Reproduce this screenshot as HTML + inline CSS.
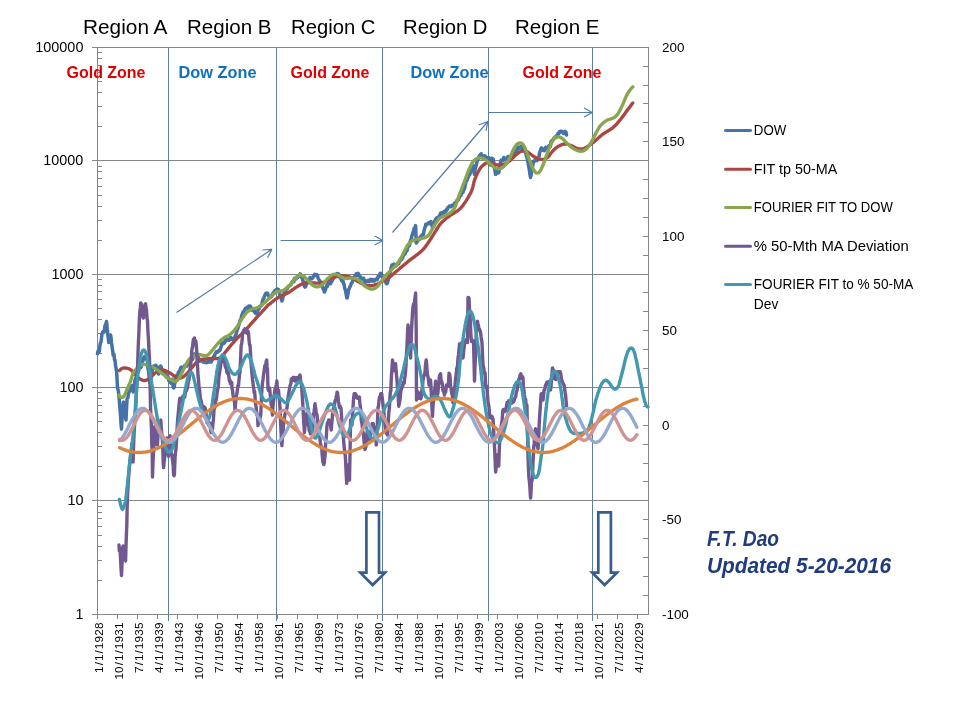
<!DOCTYPE html>
<html lang="en"><head><meta charset="utf-8"><title>Dow / Gold Zones</title>
<style>
html,body{margin:0;padding:0;background:#fff}
body{width:960px;height:720px;overflow:hidden;position:relative;font-family:"Liberation Sans",sans-serif}
svg{position:absolute;left:0;top:0;display:block}
text{font-family:"Liberation Sans",sans-serif}
.ax{font-size:14.4px;fill:#000}
.ar{font-size:13.4px;fill:#000}
.ad{font-size:11.7px;fill:#000}
.lg{font-size:14.5px;fill:#000}
.rg{font-size:19.5px;fill:#000}
.gz{font-size:17.3px;font-weight:bold;fill:#e00000}
.dz{font-size:17.3px;font-weight:bold;fill:#0f70c0}
.sig{font-size:21.5px;font-weight:bold;font-style:italic;fill:#1f3d7c}
.grid line{stroke:#868686;stroke-width:1}
.vz line{stroke:#5f7d9f;stroke-width:1}
.ser path{fill:none;stroke-linejoin:round;stroke-linecap:round}
</style></head><body>
<svg width="960" height="720" viewBox="0 0 960 720">
<rect width="960" height="720" fill="#fff"/>
<g class="grid" shape-rendering="crispEdges">
<line x1="91.5" y1="47.5" x2="648.5" y2="47.5"/>
<line x1="91.5" y1="160.5" x2="648.5" y2="160.5"/>
<line x1="91.5" y1="274.5" x2="648.5" y2="274.5"/>
<line x1="91.5" y1="387.5" x2="648.5" y2="387.5"/>
<line x1="91.5" y1="500.5" x2="648.5" y2="500.5"/>
<line x1="91.5" y1="614.5" x2="648.5" y2="614.5"/>
<line x1="97.5" y1="47.5" x2="97.5" y2="614.5"/>
<line x1="648.5" y1="47.5" x2="648.5" y2="614.5"/>
<line x1="97.5" y1="580.5" x2="101.5" y2="580.5"/>
<line x1="97.5" y1="560.5" x2="101.5" y2="560.5"/>
<line x1="97.5" y1="546.5" x2="101.5" y2="546.5"/>
<line x1="97.5" y1="535.5" x2="101.5" y2="535.5"/>
<line x1="97.5" y1="526.5" x2="101.5" y2="526.5"/>
<line x1="97.5" y1="518.5" x2="101.5" y2="518.5"/>
<line x1="97.5" y1="512.5" x2="101.5" y2="512.5"/>
<line x1="97.5" y1="506.5" x2="101.5" y2="506.5"/>
<line x1="97.5" y1="466.5" x2="101.5" y2="466.5"/>
<line x1="97.5" y1="446.5" x2="101.5" y2="446.5"/>
<line x1="97.5" y1="432.5" x2="101.5" y2="432.5"/>
<line x1="97.5" y1="421.5" x2="101.5" y2="421.5"/>
<line x1="97.5" y1="412.5" x2="101.5" y2="412.5"/>
<line x1="97.5" y1="405.5" x2="101.5" y2="405.5"/>
<line x1="97.5" y1="398.5" x2="101.5" y2="398.5"/>
<line x1="97.5" y1="392.5" x2="101.5" y2="392.5"/>
<line x1="97.5" y1="353.5" x2="101.5" y2="353.5"/>
<line x1="97.5" y1="333.5" x2="101.5" y2="333.5"/>
<line x1="97.5" y1="319.5" x2="101.5" y2="319.5"/>
<line x1="97.5" y1="308.5" x2="101.5" y2="308.5"/>
<line x1="97.5" y1="299.5" x2="101.5" y2="299.5"/>
<line x1="97.5" y1="291.5" x2="101.5" y2="291.5"/>
<line x1="97.5" y1="285.5" x2="101.5" y2="285.5"/>
<line x1="97.5" y1="279.5" x2="101.5" y2="279.5"/>
<line x1="97.5" y1="240.5" x2="101.5" y2="240.5"/>
<line x1="97.5" y1="220.5" x2="101.5" y2="220.5"/>
<line x1="97.5" y1="206.5" x2="101.5" y2="206.5"/>
<line x1="97.5" y1="195.5" x2="101.5" y2="195.5"/>
<line x1="97.5" y1="186.5" x2="101.5" y2="186.5"/>
<line x1="97.5" y1="178.5" x2="101.5" y2="178.5"/>
<line x1="97.5" y1="171.5" x2="101.5" y2="171.5"/>
<line x1="97.5" y1="166.5" x2="101.5" y2="166.5"/>
<line x1="97.5" y1="126.5" x2="101.5" y2="126.5"/>
<line x1="97.5" y1="106.5" x2="101.5" y2="106.5"/>
<line x1="97.5" y1="92.5" x2="101.5" y2="92.5"/>
<line x1="97.5" y1="81.5" x2="101.5" y2="81.5"/>
<line x1="97.5" y1="72.5" x2="101.5" y2="72.5"/>
<line x1="97.5" y1="65.5" x2="101.5" y2="65.5"/>
<line x1="97.5" y1="58.5" x2="101.5" y2="58.5"/>
<line x1="97.5" y1="52.5" x2="101.5" y2="52.5"/>
<line x1="643.0" y1="614.5" x2="648.5" y2="614.5"/>
<line x1="643.0" y1="595.5" x2="648.5" y2="595.5"/>
<line x1="643.0" y1="576.5" x2="648.5" y2="576.5"/>
<line x1="643.0" y1="557.5" x2="648.5" y2="557.5"/>
<line x1="643.0" y1="538.5" x2="648.5" y2="538.5"/>
<line x1="643.0" y1="519.5" x2="648.5" y2="519.5"/>
<line x1="643.0" y1="500.5" x2="648.5" y2="500.5"/>
<line x1="643.0" y1="481.5" x2="648.5" y2="481.5"/>
<line x1="643.0" y1="463.5" x2="648.5" y2="463.5"/>
<line x1="643.0" y1="444.5" x2="648.5" y2="444.5"/>
<line x1="643.0" y1="425.5" x2="648.5" y2="425.5"/>
<line x1="643.0" y1="406.5" x2="648.5" y2="406.5"/>
<line x1="643.0" y1="387.5" x2="648.5" y2="387.5"/>
<line x1="643.0" y1="368.5" x2="648.5" y2="368.5"/>
<line x1="643.0" y1="349.5" x2="648.5" y2="349.5"/>
<line x1="643.0" y1="330.5" x2="648.5" y2="330.5"/>
<line x1="643.0" y1="311.5" x2="648.5" y2="311.5"/>
<line x1="643.0" y1="292.5" x2="648.5" y2="292.5"/>
<line x1="643.0" y1="274.5" x2="648.5" y2="274.5"/>
<line x1="643.0" y1="255.5" x2="648.5" y2="255.5"/>
<line x1="643.0" y1="236.5" x2="648.5" y2="236.5"/>
<line x1="643.0" y1="217.5" x2="648.5" y2="217.5"/>
<line x1="643.0" y1="198.5" x2="648.5" y2="198.5"/>
<line x1="643.0" y1="179.5" x2="648.5" y2="179.5"/>
<line x1="643.0" y1="160.5" x2="648.5" y2="160.5"/>
<line x1="643.0" y1="141.5" x2="648.5" y2="141.5"/>
<line x1="643.0" y1="122.5" x2="648.5" y2="122.5"/>
<line x1="643.0" y1="103.5" x2="648.5" y2="103.5"/>
<line x1="643.0" y1="85.5" x2="648.5" y2="85.5"/>
<line x1="643.0" y1="66.5" x2="648.5" y2="66.5"/>
<line x1="643.0" y1="47.5" x2="648.5" y2="47.5"/>
<line x1="97.5" y1="614.5" x2="97.5" y2="618.5"/>
<line x1="117.5" y1="614.5" x2="117.5" y2="618.5"/>
<line x1="137.5" y1="614.5" x2="137.5" y2="618.5"/>
<line x1="157.5" y1="614.5" x2="157.5" y2="618.5"/>
<line x1="177.5" y1="614.5" x2="177.5" y2="618.5"/>
<line x1="197.5" y1="614.5" x2="197.5" y2="618.5"/>
<line x1="217.5" y1="614.5" x2="217.5" y2="618.5"/>
<line x1="237.5" y1="614.5" x2="237.5" y2="618.5"/>
<line x1="257.5" y1="614.5" x2="257.5" y2="618.5"/>
<line x1="277.5" y1="614.5" x2="277.5" y2="618.5"/>
<line x1="297.5" y1="614.5" x2="297.5" y2="618.5"/>
<line x1="317.5" y1="614.5" x2="317.5" y2="618.5"/>
<line x1="337.5" y1="614.5" x2="337.5" y2="618.5"/>
<line x1="357.5" y1="614.5" x2="357.5" y2="618.5"/>
<line x1="377.5" y1="614.5" x2="377.5" y2="618.5"/>
<line x1="397.5" y1="614.5" x2="397.5" y2="618.5"/>
<line x1="417.5" y1="614.5" x2="417.5" y2="618.5"/>
<line x1="437.5" y1="614.5" x2="437.5" y2="618.5"/>
<line x1="457.5" y1="614.5" x2="457.5" y2="618.5"/>
<line x1="477.5" y1="614.5" x2="477.5" y2="618.5"/>
<line x1="497.5" y1="614.5" x2="497.5" y2="618.5"/>
<line x1="517.5" y1="614.5" x2="517.5" y2="618.5"/>
<line x1="537.5" y1="614.5" x2="537.5" y2="618.5"/>
<line x1="557.5" y1="614.5" x2="557.5" y2="618.5"/>
<line x1="577.5" y1="614.5" x2="577.5" y2="618.5"/>
<line x1="597.5" y1="614.5" x2="597.5" y2="618.5"/>
<line x1="617.5" y1="614.5" x2="617.5" y2="618.5"/>
<line x1="637.5" y1="614.5" x2="637.5" y2="618.5"/>
</g>
<g class="vz" shape-rendering="crispEdges">
<line x1="168.5" y1="47.5" x2="168.5" y2="621.0"/>
<line x1="276.5" y1="47.5" x2="276.5" y2="621.0"/>
<line x1="382.5" y1="47.5" x2="382.5" y2="621.0"/>
<line x1="488.5" y1="47.5" x2="488.5" y2="621.0"/>
<line x1="592.5" y1="47.5" x2="592.5" y2="621.0"/>
</g>
<g class="ser">
<path d="M97.5 353.8 L98.0 351.2 L98.5 351.3 L98.9 352.4 L99.4 351.0 L99.8 346.6 L100.2 344.1 L100.6 342.6 L101.0 342.0 L101.5 337.8 L102.0 333.6 L102.5 332.5 L103.0 331.6 L103.5 332.4 L103.9 332.3 L104.4 330.5 L105.0 325.5 L105.5 325.0 L106.0 323.6 L106.5 321.5 L106.9 324.8 L107.3 330.0 L107.8 334.5 L108.3 338.3 L108.8 342.5 L109.1 339.9 L109.5 338.0 L110.0 337.2 L110.6 335.0 L111.0 337.0 L111.5 343.0 L111.9 345.0 L112.3 348.9 L112.7 350.8 L113.1 355.0 L113.6 354.3 L114.0 354.4 L114.5 359.9 L115.0 360.0 L115.5 365.7 L116.0 368.0 L116.5 371.2 L116.9 376.0 L117.5 388.0 L118.0 389.6 L118.5 392.0 L119.0 397.4 L119.4 401.0 L120.0 409.1 L120.5 415.0 L121.0 423.9 L121.5 429.0 L122.0 420.0 L122.5 410.0 L123.0 407.2 L123.5 402.0 L124.0 405.9 L124.5 408.0 L125.0 412.9 L125.5 416.9 L126.0 420.0 L126.5 408.8 L127.0 400.0 L127.4 398.0 L127.9 397.8 L128.3 394.4 L128.8 392.5 L129.2 391.9 L129.6 391.0 L130.0 390.0 L130.5 390.1 L131.0 388.9 L131.5 387.0 L132.0 385.7 L132.5 386.0 L132.8 389.4 L133.2 392.0 L133.6 389.2 L134.0 386.0 L134.5 383.4 L135.0 380.0 L135.5 378.4 L136.0 378.4 L136.5 375.0 L137.0 372.1 L137.5 373.4 L138.0 372.0 L138.4 371.2 L138.8 370.2 L139.2 367.3 L139.6 367.5 L140.0 368.0 L140.4 367.3 L140.8 367.4 L141.2 366.6 L141.6 364.2 L142.0 363.0 L142.4 361.4 L142.8 361.1 L143.2 360.0 L143.6 358.0 L144.0 358.0 L144.4 356.9 L144.8 358.3 L145.2 358.7 L145.6 358.7 L146.0 357.0 L146.5 357.3 L147.0 359.4 L147.5 362.0 L148.0 368.5 L148.5 371.0 L149.0 375.0 L149.5 379.7 L150.0 383.1 L150.5 383.0 L151.0 378.4 L151.5 376.3 L152.0 372.0 L152.5 369.1 L153.0 367.1 L153.5 366.0 L154.0 367.7 L154.5 367.7 L155.0 367.0 L155.4 367.4 L155.8 365.3 L156.2 366.0 L156.7 366.5 L157.1 367.3 L157.5 370.0 L158.0 372.6 L158.5 374.0 L159.0 372.7 L159.5 368.0 L160.1 366.9 L160.6 366.0 L161.1 366.6 L161.5 369.1 L162.0 370.0 L162.4 371.3 L162.8 371.5 L163.2 371.0 L163.6 371.3 L164.0 372.0 L164.4 373.6 L164.8 373.2 L165.2 373.1 L165.6 371.3 L166.0 374.0 L166.4 377.0 L166.8 377.4 L167.2 377.3 L167.6 376.0 L168.0 377.0 L168.4 378.1 L168.8 380.7 L169.2 380.7 L169.6 380.7 L170.0 380.0 L170.5 382.5 L170.9 383.1 L171.4 380.7 L171.9 381.3 L172.3 379.3 L172.8 384.8 L173.3 386.8 L173.8 388.0 L174.2 387.2 L174.7 383.3 L175.1 382.6 L175.6 379.6 L176.0 380.0 L176.4 377.1 L176.8 375.3 L177.2 375.5 L177.6 376.0 L178.0 374.0 L178.4 372.1 L178.8 372.3 L179.2 372.6 L179.6 371.2 L180.0 370.0 L180.4 368.9 L180.9 367.4 L181.3 367.3 L181.7 367.3 L182.1 367.3 L182.6 368.5 L183.0 368.0 L183.4 367.9 L183.9 367.0 L184.3 366.9 L184.7 365.7 L185.1 365.3 L185.6 365.3 L186.0 366.0 L186.4 365.8 L186.8 366.1 L187.2 365.4 L187.6 363.8 L188.0 363.0 L188.4 363.1 L188.8 362.5 L189.2 361.5 L189.6 360.6 L190.0 361.0 L190.4 360.4 L190.9 359.3 L191.3 359.8 L191.7 359.3 L192.1 359.1 L192.6 359.5 L193.0 358.0 L193.4 355.5 L193.9 355.4 L194.3 354.0 L194.7 354.4 L195.1 353.9 L195.6 354.1 L196.0 354.0 L196.4 353.3 L196.8 354.7 L197.2 355.1 L197.6 355.4 L198.0 356.0 L198.4 357.6 L198.8 359.3 L199.2 361.2 L199.6 360.6 L200.0 361.0 L200.4 360.3 L200.9 360.3 L201.3 360.3 L201.7 360.3 L202.1 360.3 L202.6 360.8 L203.0 362.0 L203.4 361.3 L203.8 361.3 L204.2 361.3 L204.6 361.5 L205.0 362.5 L205.4 362.4 L205.9 362.5 L206.3 362.6 L206.7 362.7 L207.1 362.5 L207.6 362.2 L208.0 361.0 L208.5 360.3 L208.9 361.7 L209.4 362.1 L209.9 362.1 L210.3 361.8 L210.8 361.8 L211.2 362.0 L211.7 360.6 L212.1 360.0 L212.6 359.5 L213.0 358.0 L213.4 357.3 L213.8 356.3 L214.2 355.4 L214.6 356.1 L215.0 354.0 L215.5 353.4 L215.9 352.6 L216.4 351.7 L216.9 351.5 L217.3 352.2 L217.8 351.9 L218.3 351.5 L218.8 350.6 L219.2 350.1 L219.7 350.6 L220.1 349.9 L220.6 348.5 L221.0 347.0 L221.4 345.4 L221.8 343.6 L222.2 344.0 L222.6 343.8 L223.0 343.0 L223.4 343.7 L223.8 342.6 L224.2 342.8 L224.6 342.9 L225.0 341.0 L225.4 339.5 L225.8 339.3 L226.2 339.3 L226.7 340.4 L227.1 339.3 L227.5 340.0 L227.9 340.1 L228.3 340.1 L228.8 340.1 L229.2 340.2 L229.6 339.0 L230.0 338.5 L230.5 337.3 L230.9 337.6 L231.4 339.2 L231.9 339.2 L232.3 339.2 L232.8 339.2 L233.3 339.0 L233.8 338.0 L234.2 338.6 L234.7 337.9 L235.1 336.1 L235.6 335.7 L236.0 335.0 L236.4 332.5 L236.8 331.1 L237.2 329.9 L237.6 328.9 L238.0 328.0 L238.5 326.2 L238.9 324.8 L239.4 322.8 L239.9 320.5 L240.3 320.3 L240.8 319.1 L241.2 318.0 L241.7 315.6 L242.1 314.4 L242.6 314.2 L243.0 312.0 L243.4 312.2 L243.9 311.0 L244.3 310.5 L244.7 309.6 L245.1 308.9 L245.6 309.2 L246.0 308.0 L246.5 308.7 L246.9 308.3 L247.4 307.3 L247.8 307.7 L248.3 306.5 L248.8 306.0 L249.2 306.7 L249.7 307.7 L250.1 306.0 L250.6 306.4 L251.0 308.0 L251.4 309.7 L251.8 310.1 L252.2 310.1 L252.6 310.4 L253.0 310.0 L253.4 310.3 L253.9 310.6 L254.3 310.9 L254.7 312.5 L255.2 312.8 L255.6 312.0 L256.0 313.4 L256.5 312.9 L256.9 313.0 L257.3 312.0 L257.7 310.8 L258.2 309.0 L258.6 308.3 L259.0 309.0 L259.4 307.5 L259.9 306.3 L260.3 306.4 L260.8 306.0 L261.2 305.7 L261.6 305.5 L262.1 302.8 L262.5 301.0 L262.9 299.7 L263.3 298.8 L263.7 298.6 L264.1 297.6 L264.5 296.0 L264.9 295.1 L265.4 294.0 L265.8 293.3 L266.2 293.0 L266.7 293.4 L267.1 293.4 L267.6 293.3 L268.0 295.0 L268.4 295.8 L268.8 296.4 L269.2 296.9 L269.6 297.3 L270.0 297.0 L270.4 297.5 L270.8 296.5 L271.2 296.2 L271.6 295.4 L272.0 296.0 L272.4 294.6 L272.8 293.7 L273.2 293.2 L273.6 293.6 L274.0 292.0 L274.4 291.0 L274.9 291.6 L275.4 290.4 L275.8 290.7 L276.2 290.0 L276.7 290.3 L277.1 289.0 L277.6 290.0 L278.1 289.9 L278.5 289.5 L278.9 291.3 L279.3 291.9 L279.7 295.0 L280.1 295.4 L280.5 295.0 L281.0 296.6 L281.4 299.5 L281.9 301.0 L282.3 299.9 L282.7 298.8 L283.1 296.4 L283.5 295.0 L283.9 293.9 L284.3 292.1 L284.8 292.2 L285.2 292.1 L285.6 291.5 L286.0 290.0 L286.4 288.3 L286.9 288.8 L287.3 288.7 L287.7 287.3 L288.1 287.3 L288.6 286.0 L289.0 286.0 L289.4 285.7 L289.9 285.6 L290.3 285.3 L290.8 285.0 L291.2 283.6 L291.7 282.8 L292.1 281.9 L292.6 281.2 L293.0 281.0 L293.4 280.9 L293.9 281.7 L294.3 278.7 L294.7 278.3 L295.1 278.3 L295.6 278.8 L296.0 279.0 L296.4 277.3 L296.8 277.5 L297.2 276.8 L297.7 277.5 L298.1 276.3 L298.5 276.0 L298.9 276.0 L299.3 275.9 L299.8 275.5 L300.2 273.9 L300.6 274.4 L301.1 276.4 L301.6 277.5 L302.0 277.7 L302.5 279.0 L303.0 281.1 L303.5 282.5 L304.0 284.0 L304.4 286.4 L304.8 286.5 L305.2 287.1 L305.6 286.5 L306.1 285.2 L306.6 283.8 L307.0 282.3 L307.5 281.0 L307.9 281.7 L308.3 280.7 L308.8 279.7 L309.2 280.8 L309.6 279.9 L310.0 277.5 L310.4 278.3 L310.8 277.9 L311.2 278.7 L311.7 278.7 L312.1 278.7 L312.5 278.0 L312.9 277.7 L313.4 276.3 L313.8 275.9 L314.3 275.1 L314.7 274.3 L315.2 274.6 L315.6 275.0 L316.1 275.5 L316.6 275.2 L317.0 274.7 L317.5 275.4 L318.0 278.0 L318.4 278.9 L318.8 279.5 L319.2 280.2 L319.6 280.6 L320.0 281.0 L320.4 281.8 L320.8 284.0 L321.2 285.0 L321.6 285.5 L322.0 285.0 L322.5 287.0 L323.0 288.7 L323.4 289.4 L323.9 290.2 L324.4 292.0 L324.8 291.4 L325.2 290.4 L325.7 289.1 L326.1 287.2 L326.5 286.0 L326.9 285.2 L327.3 286.4 L327.8 284.7 L328.2 283.6 L328.6 284.0 L329.0 283.0 L329.4 283.7 L329.8 283.7 L330.2 283.7 L330.7 283.4 L331.1 282.0 L331.5 281.0 L331.9 281.4 L332.3 280.4 L332.8 279.4 L333.2 278.7 L333.6 277.6 L334.0 277.0 L334.4 276.5 L334.9 276.0 L335.3 276.7 L335.8 276.1 L336.2 274.7 L336.6 274.2 L337.1 273.5 L337.5 273.8 L337.9 273.9 L338.3 273.7 L338.7 274.1 L339.1 276.3 L339.5 277.0 L339.9 277.5 L340.3 277.8 L340.8 278.4 L341.2 279.6 L341.6 280.7 L342.0 280.0 L342.4 281.4 L342.8 281.6 L343.2 281.6 L343.6 283.9 L344.0 284.0 L344.5 287.2 L345.0 289.5 L345.5 290.0 L345.9 292.7 L346.4 295.7 L346.8 297.8 L347.2 298.0 L347.7 295.4 L348.1 292.9 L348.6 289.6 L349.0 289.0 L349.4 288.2 L349.8 287.2 L350.2 286.4 L350.7 285.1 L351.1 283.8 L351.5 283.3 L351.9 283.0 L352.3 281.7 L352.7 280.9 L353.2 278.8 L353.6 278.5 L354.0 277.0 L354.4 276.9 L354.9 275.9 L355.4 275.2 L355.8 275.1 L356.2 273.8 L356.7 275.5 L357.2 275.0 L357.6 274.4 L358.1 273.3 L358.5 274.2 L359.0 275.0 L359.4 276.3 L359.9 276.2 L360.3 276.8 L360.7 278.4 L361.1 279.0 L361.6 279.0 L362.0 279.0 L362.4 278.3 L362.8 278.3 L363.2 278.3 L363.7 278.3 L364.1 280.0 L364.5 281.5 L364.9 280.6 L365.4 281.0 L365.8 281.1 L366.2 281.0 L366.7 281.7 L367.2 281.3 L367.6 280.8 L368.1 280.3 L368.5 280.3 L369.0 281.0 L369.4 281.6 L369.8 280.4 L370.2 279.9 L370.7 279.3 L371.1 279.8 L371.5 280.0 L371.9 281.0 L372.4 281.1 L372.9 279.6 L373.3 280.2 L373.8 280.6 L374.2 281.1 L374.6 280.0 L375.1 280.1 L375.6 279.6 L376.0 279.0 L376.4 279.6 L376.8 279.7 L377.2 279.6 L377.7 278.3 L378.1 276.3 L378.5 276.0 L379.0 276.7 L379.4 276.3 L379.9 273.9 L380.3 273.3 L380.8 273.3 L381.2 274.0 L381.7 275.6 L382.1 276.5 L382.6 277.2 L383.1 276.8 L383.5 277.0 L383.9 277.7 L384.3 278.0 L384.7 279.1 L385.1 279.7 L385.5 281.0 L385.9 282.5 L386.3 283.5 L386.7 283.7 L387.1 283.7 L387.5 283.0 L388.0 280.7 L388.5 279.1 L389.0 276.0 L389.4 275.5 L389.8 273.5 L390.2 272.2 L390.7 270.3 L391.1 267.5 L391.5 267.7 L391.9 265.0 L392.3 265.7 L392.7 265.1 L393.2 265.3 L393.6 264.5 L394.0 264.0 L394.4 264.7 L394.8 266.3 L395.2 265.4 L395.6 265.3 L396.0 266.0 L396.4 264.9 L396.8 264.9 L397.2 263.7 L397.7 263.6 L398.1 263.5 L398.5 264.0 L398.9 263.5 L399.3 261.6 L399.8 261.4 L400.2 259.6 L400.6 259.5 L401.0 260.0 L401.4 259.7 L401.9 258.3 L402.3 258.5 L402.7 257.8 L403.1 255.8 L403.6 254.6 L404.0 255.0 L404.4 254.4 L404.8 254.2 L405.2 253.6 L405.7 251.8 L406.1 251.1 L406.5 251.1 L406.9 251.0 L407.3 249.7 L407.7 246.7 L408.2 246.7 L408.6 246.2 L409.0 246.0 L409.4 245.6 L409.8 243.6 L410.2 241.4 L410.6 240.1 L411.0 240.0 L411.5 237.3 L412.0 235.9 L412.5 234.0 L413.0 232.3 L413.5 231.5 L414.0 229.0 L414.4 227.7 L414.8 227.6 L415.2 227.2 L415.6 225.6 L416.2 243.0 L416.7 242.8 L417.1 241.4 L417.5 241.0 L417.9 239.6 L418.3 240.3 L418.8 238.7 L419.2 239.4 L419.6 237.8 L420.0 238.5 L420.4 238.0 L420.8 236.4 L421.2 236.0 L421.6 236.1 L422.0 235.0 L422.4 234.6 L422.9 234.9 L423.3 234.7 L423.8 232.0 L424.2 230.0 L424.6 228.7 L425.0 227.3 L425.4 226.6 L425.8 224.3 L426.2 225.0 L426.7 224.7 L427.1 224.0 L427.6 224.0 L428.1 223.9 L428.5 223.0 L429.0 222.5 L429.4 223.5 L429.9 223.7 L430.3 222.4 L430.8 221.5 L431.2 222.0 L431.7 223.8 L432.1 225.7 L432.5 228.0 L433.0 226.5 L433.5 226.2 L434.0 224.0 L434.4 222.1 L434.8 220.9 L435.2 220.0 L435.6 219.2 L436.0 219.0 L436.4 218.2 L436.8 218.8 L437.2 218.9 L437.6 217.5 L438.0 217.0 L438.4 217.7 L438.9 217.7 L439.3 217.7 L439.7 215.2 L440.2 214.1 L440.6 213.0 L441.1 212.8 L441.6 214.6 L442.0 214.7 L442.5 214.7 L443.0 214.0 L443.4 212.4 L443.8 211.7 L444.2 211.3 L444.6 212.9 L445.0 212.0 L445.4 210.9 L445.8 211.4 L446.2 210.9 L446.7 209.2 L447.1 209.8 L447.5 209.0 L448.0 207.2 L448.4 207.0 L448.9 206.9 L449.4 206.0 L449.8 206.7 L450.3 206.7 L450.7 206.7 L451.1 206.7 L451.6 205.5 L452.0 206.0 L452.4 205.7 L452.8 205.2 L453.2 205.1 L453.6 205.4 L454.0 204.0 L454.4 204.7 L454.8 203.0 L455.2 203.3 L455.6 203.4 L456.0 203.0 L456.4 202.1 L456.8 200.6 L457.2 200.2 L457.6 200.8 L458.0 200.0 L458.4 199.8 L458.8 198.5 L459.2 198.0 L459.6 196.4 L460.0 196.0 L460.4 195.6 L460.8 195.6 L461.2 194.8 L461.6 193.5 L462.0 193.0 L462.5 192.4 L463.0 192.3 L463.4 190.4 L463.9 189.6 L464.4 188.8 L464.8 187.6 L465.2 184.7 L465.6 183.6 L466.1 181.2 L466.5 180.8 L466.9 180.0 L467.3 179.9 L467.7 177.0 L468.1 177.0 L468.5 177.0 L468.9 175.1 L469.3 175.1 L469.8 174.4 L470.2 173.4 L470.6 172.0 L471.1 169.7 L471.6 167.9 L472.0 169.2 L472.5 168.0 L473.0 167.4 L473.5 166.0 L473.9 170.2 L474.4 174.4 L474.9 170.4 L475.5 168.0 L475.9 166.1 L476.3 165.2 L476.7 162.5 L477.1 161.7 L477.5 160.0 L477.9 159.7 L478.3 158.7 L478.7 157.1 L479.1 157.3 L479.5 156.0 L479.9 155.6 L480.4 154.5 L480.8 154.4 L481.2 153.8 L481.7 155.1 L482.1 156.6 L482.6 157.1 L483.0 157.0 L483.4 156.9 L483.8 157.3 L484.2 157.4 L484.6 155.9 L485.0 156.0 L485.4 156.6 L485.8 157.0 L486.2 157.7 L486.6 157.6 L487.0 158.0 L487.4 158.7 L487.9 158.6 L488.3 157.5 L488.8 157.5 L489.2 160.9 L489.6 162.4 L490.0 165.0 L490.5 163.7 L491.0 161.7 L491.5 160.0 L491.9 158.3 L492.3 158.5 L492.7 159.5 L493.1 158.8 L493.6 161.5 L494.0 163.8 L494.5 168.0 L495.1 171.6 L495.6 174.4 L496.1 173.9 L496.5 173.0 L497.0 172.0 L497.4 171.3 L497.9 171.7 L498.3 172.9 L498.8 172.5 L499.2 169.8 L499.6 167.6 L500.0 165.0 L500.4 162.8 L500.8 160.7 L501.2 160.0 L501.7 160.3 L502.1 160.7 L502.5 160.7 L502.9 160.7 L503.3 159.7 L503.8 157.5 L504.2 158.1 L504.6 159.7 L505.1 159.5 L505.5 159.0 L505.9 159.6 L506.3 159.7 L506.7 158.7 L507.1 158.0 L507.5 157.0 L507.9 158.0 L508.3 156.5 L508.8 156.5 L509.2 157.4 L509.6 158.3 L510.0 158.8 L510.4 159.4 L510.8 158.8 L511.2 158.3 L511.6 157.4 L512.0 157.0 L512.4 157.7 L512.9 155.6 L513.3 155.0 L513.7 152.7 L514.1 152.8 L514.6 152.8 L515.0 151.2 L515.4 151.9 L515.8 151.3 L516.2 151.5 L516.7 150.8 L517.1 149.3 L517.5 148.0 L517.9 147.4 L518.3 147.4 L518.8 147.0 L519.2 148.6 L519.6 147.9 L520.0 146.9 L520.4 147.0 L520.8 147.1 L521.2 146.5 L521.6 146.4 L522.0 148.0 L522.5 149.0 L523.0 149.8 L523.5 151.0 L524.0 150.9 L524.5 150.4 L525.0 150.0 L525.4 151.6 L525.8 153.5 L526.2 154.9 L526.7 156.9 L527.1 158.2 L527.5 160.0 L528.0 162.7 L528.5 165.4 L529.0 168.0 L529.4 170.1 L529.8 173.7 L530.2 175.9 L530.6 177.5 L531.1 175.1 L531.5 171.5 L532.0 168.0 L532.4 167.3 L532.9 165.1 L533.3 161.5 L533.8 161.0 L534.2 161.7 L534.6 160.4 L535.1 159.5 L535.5 160.0 L535.9 159.3 L536.3 159.7 L536.7 159.7 L537.1 160.7 L537.5 160.0 L537.9 159.7 L538.3 158.4 L538.7 157.5 L539.1 156.1 L539.5 153.0 L539.9 152.1 L540.4 150.2 L540.8 149.5 L541.2 148.0 L541.7 148.0 L542.1 148.2 L542.5 149.2 L542.9 150.2 L543.3 149.7 L543.8 150.0 L544.2 150.6 L544.6 150.4 L545.0 149.1 L545.4 148.3 L545.8 147.3 L546.2 147.5 L546.7 147.4 L547.1 147.6 L547.6 148.7 L548.0 148.0 L548.4 147.3 L548.8 146.0 L549.2 145.6 L549.6 145.8 L550.0 146.2 L550.4 146.4 L550.8 143.2 L551.2 141.1 L551.7 141.0 L552.1 140.6 L552.5 140.0 L552.9 140.0 L553.3 139.3 L553.8 138.6 L554.2 137.9 L554.6 137.9 L555.0 137.0 L555.4 136.9 L555.8 137.7 L556.2 136.5 L556.7 135.5 L557.1 135.6 L557.5 135.0 L557.9 133.6 L558.3 134.2 L558.8 133.4 L559.2 131.8 L559.6 131.8 L560.0 132.5 L560.4 131.3 L560.8 131.2 L561.2 131.2 L561.7 131.2 L562.1 131.6 L562.5 131.9 L563.0 132.3 L563.5 133.5 L564.0 133.5 L564.5 131.9 L565.0 131.3 L565.5 132.0 L566.0 132.3 L566.5 135.0" stroke="#4572a7" stroke-width="3.5"/>
<path d="M119.4 370.5 L120.1 369.9 L121.0 369.1 L122.0 368.5 L123.0 368.2 L124.0 368.0 L125.0 368.0 L126.0 368.1 L127.0 368.2 L128.0 368.5 L129.0 368.8 L129.9 369.3 L131.0 370.0 L131.7 370.6 L132.5 371.4 L133.3 372.2 L134.1 373.1 L135.0 374.0 L135.7 374.7 L136.4 375.5 L137.1 376.3 L137.8 377.0 L138.5 377.8 L139.3 378.5 L140.0 379.0 L141.0 379.6 L142.0 380.0 L143.0 380.4 L144.0 380.5 L145.0 380.5 L146.0 380.3 L147.0 379.9 L148.0 379.4 L149.0 378.7 L150.0 378.0 L150.7 377.4 L151.4 376.7 L152.1 375.9 L152.9 375.1 L153.6 374.3 L154.3 373.6 L155.0 373.0 L156.0 372.3 L157.1 371.7 L158.1 371.2 L159.1 370.8 L160.0 370.5 L161.1 370.1 L162.1 370.0 L163.0 370.0 L164.0 370.2 L164.9 370.5 L166.0 371.0 L166.9 371.4 L167.9 371.8 L168.9 372.4 L170.0 373.0 L170.8 373.5 L171.6 374.1 L172.5 374.8 L173.4 375.4 L174.2 376.0 L175.0 376.5 L176.1 377.1 L177.1 377.5 L178.0 377.8 L179.0 378.0 L180.0 378.0 L181.0 377.8 L182.0 377.5 L183.0 377.0 L183.8 376.5 L184.6 375.8 L185.5 375.0 L186.3 374.2 L187.0 373.5 L187.8 372.7 L188.5 371.8 L189.2 371.0 L190.0 370.0 L190.6 369.2 L191.3 368.4 L192.0 367.5 L192.7 366.6 L193.4 365.8 L194.0 365.0 L194.9 364.0 L195.8 363.1 L196.6 362.2 L197.5 361.5 L198.4 360.9 L199.2 360.3 L200.1 359.9 L201.0 359.5 L201.9 359.3 L202.9 359.2 L203.9 359.1 L205.0 359.0 L205.9 358.9 L206.9 358.8 L208.0 358.7 L209.0 358.6 L210.0 358.5 L211.0 358.5 L212.1 358.5 L213.1 358.5 L214.1 358.5 L215.0 358.5 L216.4 358.6 L217.6 358.7 L218.8 358.5 L219.6 358.1 L220.4 357.5 L221.2 356.8 L222.0 356.0 L222.7 355.3 L223.3 354.6 L224.0 353.7 L225.0 352.5 L225.6 351.8 L226.2 351.1 L226.8 350.3 L227.6 349.4 L228.3 348.5 L229.0 347.6 L229.8 346.7 L230.5 345.8 L231.2 345.0 L231.9 344.2 L232.6 343.4 L233.3 342.6 L234.0 341.8 L234.7 341.0 L235.4 340.2 L236.1 339.5 L236.8 338.7 L237.5 338.0 L238.3 337.2 L239.1 336.5 L239.8 335.7 L240.6 335.0 L241.4 334.3 L242.2 333.5 L243.0 332.8 L243.8 332.0 L244.4 331.3 L245.1 330.5 L245.8 329.7 L246.5 329.0 L247.2 328.2 L247.9 327.4 L248.6 326.6 L249.3 325.8 L250.0 325.0 L250.7 324.2 L251.4 323.4 L252.1 322.7 L252.8 321.9 L253.5 321.1 L254.2 320.3 L254.9 319.5 L255.6 318.8 L256.2 318.0 L256.9 317.2 L257.6 316.5 L258.3 315.7 L259.0 315.0 L259.7 314.2 L260.4 313.5 L261.1 312.8 L261.8 312.0 L262.5 311.2 L263.2 310.5 L264.0 309.6 L264.8 308.7 L265.6 307.9 L266.3 307.0 L267.0 306.2 L267.7 305.5 L268.3 304.9 L268.8 304.4 L270.0 303.8 L270.5 303.3 L271.2 302.8 L272.0 302.1 L272.8 301.4 L273.7 300.7 L274.6 300.0 L275.4 299.3 L276.2 298.8 L277.3 298.1 L278.3 297.6 L279.4 297.1 L280.4 296.6 L281.5 296.1 L282.5 295.6 L283.5 295.1 L284.6 294.6 L285.6 294.1 L286.7 293.6 L287.7 293.1 L288.8 292.5 L289.6 291.9 L290.5 291.3 L291.4 290.6 L292.3 289.9 L293.2 289.3 L294.1 288.6 L295.0 288.0 L295.9 287.4 L296.8 286.9 L297.7 286.3 L298.6 285.8 L299.5 285.3 L300.4 284.8 L301.2 284.4 L302.3 284.0 L303.3 283.6 L304.4 283.2 L305.4 282.9 L306.5 282.7 L307.5 282.5 L308.5 282.5 L309.6 282.5 L310.6 282.6 L311.7 282.8 L312.7 282.9 L313.8 283.0 L314.8 283.0 L315.8 283.1 L316.9 283.1 L317.9 283.1 L319.0 283.1 L320.0 283.0 L321.0 282.8 L322.1 282.6 L323.1 282.3 L324.2 282.0 L325.2 281.6 L326.2 281.2 L327.1 280.9 L328.0 280.4 L328.9 279.9 L329.8 279.4 L330.7 278.9 L331.6 278.4 L332.5 278.0 L333.5 277.6 L334.6 277.2 L335.6 276.9 L336.7 276.7 L337.7 276.4 L338.8 276.2 L339.8 276.1 L340.8 276.0 L341.9 275.9 L342.9 275.9 L344.0 275.9 L345.0 276.0 L346.0 276.1 L347.1 276.3 L348.1 276.5 L349.2 276.8 L350.2 277.1 L351.2 277.5 L352.1 277.9 L353.0 278.4 L353.9 279.0 L354.8 279.6 L355.7 280.2 L356.6 280.7 L357.5 281.2 L358.5 281.8 L359.6 282.4 L360.6 283.0 L361.7 283.5 L362.7 284.0 L363.8 284.4 L364.8 284.7 L365.8 285.0 L366.9 285.3 L367.9 285.4 L369.0 285.6 L370.0 285.6 L371.0 285.6 L372.1 285.4 L373.1 285.3 L374.2 285.0 L375.2 284.7 L376.2 284.4 L377.3 284.0 L378.4 283.5 L379.5 282.9 L380.5 282.3 L381.5 281.8 L382.5 281.2 L383.5 280.8 L384.5 280.4 L385.4 280.0 L386.4 279.5 L387.5 278.8 L388.2 278.2 L389.0 277.6 L389.8 276.9 L390.7 276.2 L391.5 275.5 L392.4 274.7 L393.3 274.0 L394.2 273.2 L395.0 272.5 L395.8 271.8 L396.7 271.1 L397.5 270.4 L398.3 269.7 L399.2 269.0 L400.0 268.3 L400.8 267.6 L401.7 266.9 L402.5 266.2 L403.3 265.6 L404.2 264.8 L405.0 264.1 L405.8 263.4 L406.7 262.7 L407.5 262.0 L408.3 261.3 L409.2 260.7 L410.0 260.0 L410.8 259.3 L411.7 258.7 L412.5 258.1 L413.4 257.5 L414.3 256.9 L415.1 256.2 L415.9 255.6 L416.7 255.0 L417.5 254.4 L418.3 253.7 L419.2 253.1 L419.9 252.4 L420.7 251.8 L421.5 251.1 L422.2 250.4 L423.0 249.6 L423.8 248.8 L424.4 248.0 L425.0 247.2 L425.7 246.3 L426.3 245.4 L427.0 244.5 L427.6 243.6 L428.2 242.7 L428.8 241.8 L429.4 240.9 L430.0 240.0 L430.6 239.1 L431.2 238.2 L431.8 237.3 L432.3 236.4 L432.8 235.5 L433.4 234.6 L433.9 233.7 L434.5 232.9 L435.0 232.0 L435.6 231.1 L436.1 230.2 L436.7 229.3 L437.2 228.5 L437.8 227.6 L438.3 226.7 L438.9 225.9 L439.4 225.1 L440.0 224.4 L440.7 223.5 L441.4 222.7 L442.1 222.0 L442.9 221.3 L443.6 220.7 L444.3 220.0 L445.0 219.4 L445.8 218.7 L446.7 218.0 L447.5 217.4 L448.3 216.8 L449.2 216.2 L450.0 215.6 L451.0 214.9 L452.0 214.3 L453.0 213.8 L454.0 213.2 L455.0 212.5 L455.8 211.9 L456.7 211.4 L457.5 210.8 L458.3 210.2 L459.2 209.5 L460.0 208.8 L460.6 208.1 L461.3 207.4 L461.9 206.6 L462.6 205.8 L463.2 205.0 L463.8 204.1 L464.4 203.3 L465.0 202.5 L465.6 201.6 L466.2 200.7 L466.7 199.8 L467.3 198.9 L467.8 198.0 L468.3 197.1 L468.8 196.2 L469.3 195.3 L469.8 194.4 L470.4 193.4 L470.9 192.5 L471.4 191.3 L471.9 190.0 L472.2 189.2 L472.4 188.2 L472.7 187.3 L473.0 186.2 L473.2 185.2 L473.5 184.1 L473.7 183.0 L474.0 181.9 L474.3 180.8 L474.6 179.7 L475.0 178.8 L475.4 177.8 L475.8 176.8 L476.2 175.8 L476.7 174.8 L477.1 173.8 L477.6 172.9 L478.1 172.0 L478.6 171.1 L479.1 170.2 L479.5 169.5 L480.0 168.8 L480.7 167.7 L481.4 166.8 L482.1 166.1 L482.9 165.4 L483.6 164.8 L484.3 164.2 L485.0 163.8 L486.0 163.2 L487.0 162.8 L488.0 162.6 L489.0 162.5 L490.0 162.5 L491.0 162.7 L492.0 163.1 L493.0 163.6 L494.0 164.1 L495.0 164.4 L496.0 164.6 L497.0 164.8 L498.0 165.0 L499.0 165.0 L500.0 165.0 L501.0 164.9 L502.0 164.7 L503.0 164.5 L504.0 164.2 L505.0 163.8 L506.0 163.3 L507.0 162.7 L508.0 162.1 L509.0 161.4 L510.0 160.6 L510.7 160.0 L511.4 159.3 L512.1 158.5 L512.9 157.7 L513.6 157.0 L514.3 156.3 L515.0 155.6 L515.8 154.9 L516.7 154.2 L517.6 153.5 L518.4 152.9 L519.2 152.4 L520.0 151.9 L521.3 151.2 L522.5 150.8 L523.8 150.6 L525.0 150.8 L526.2 151.2 L527.5 151.9 L528.3 152.4 L529.1 153.0 L529.9 153.7 L530.8 154.3 L531.7 155.0 L532.5 155.6 L533.5 156.3 L534.5 156.9 L535.5 157.5 L536.5 158.1 L537.5 158.5 L538.5 158.9 L539.5 159.1 L540.5 159.3 L541.5 159.4 L542.5 159.4 L543.5 159.3 L544.5 159.1 L545.5 158.7 L546.5 158.2 L547.5 157.5 L548.1 156.9 L548.8 156.2 L549.4 155.4 L550.0 154.5 L550.6 153.6 L551.2 152.8 L551.9 152.0 L552.5 151.2 L553.3 150.4 L554.2 149.6 L555.0 148.8 L555.8 148.1 L556.7 147.5 L557.5 146.9 L558.5 146.2 L559.6 145.7 L560.6 145.2 L561.6 144.7 L562.5 144.4 L563.8 144.0 L565.0 143.9 L566.2 144.0 L567.2 144.2 L568.2 144.5 L569.2 144.8 L570.2 145.2 L571.2 145.6 L572.2 146.1 L573.2 146.6 L574.2 147.1 L575.2 147.6 L576.2 148.0 L577.3 148.3 L578.3 148.6 L579.3 148.8 L580.3 149.0 L581.2 149.0 L582.6 148.9 L583.8 148.5 L585.0 148.0 L585.9 147.5 L586.9 146.9 L587.8 146.2 L588.8 145.6 L589.7 145.0 L590.5 144.4 L591.5 143.8 L592.5 143.0 L593.3 142.4 L594.1 141.7 L594.9 141.0 L595.8 140.2 L596.7 139.5 L597.5 138.8 L598.3 138.0 L599.2 137.3 L600.0 136.5 L600.8 135.8 L601.7 135.1 L602.5 134.4 L603.5 133.7 L604.5 133.1 L605.5 132.5 L606.5 131.9 L607.5 131.2 L608.5 130.6 L609.5 130.0 L610.5 129.4 L611.5 128.8 L612.5 128.0 L613.2 127.4 L613.9 126.7 L614.6 126.0 L615.4 125.3 L616.1 124.6 L616.8 123.8 L617.5 123.0 L618.2 122.2 L618.9 121.4 L619.6 120.5 L620.4 119.6 L621.1 118.7 L621.8 117.8 L622.5 116.9 L623.1 116.1 L623.7 115.2 L624.4 114.4 L625.0 113.5 L625.6 112.6 L626.2 111.8 L626.9 110.9 L627.5 110.0 L628.2 109.1 L628.9 108.1 L629.7 107.1 L630.4 106.1 L631.2 105.1 L631.8 104.3 L632.3 103.5 L632.8 103.0" stroke="#aa4643" stroke-width="3.35"/>
<path d="M118.8 395.0 L119.5 396.0 L120.5 397.0 L121.5 397.5 L122.5 397.5 L123.2 396.9 L123.9 396.1 L124.5 395.0 L124.9 394.2 L125.3 393.4 L125.7 392.4 L126.2 391.0 L126.6 390.3 L127.0 389.4 L127.4 388.5 L127.8 387.5 L128.3 386.5 L128.7 385.5 L129.2 384.5 L129.6 383.5 L130.0 382.5 L130.4 381.5 L130.7 380.5 L131.1 379.4 L131.4 378.4 L131.7 377.3 L132.0 376.3 L132.3 375.4 L132.7 374.5 L133.0 373.8 L133.6 372.6 L134.2 371.7 L134.8 370.9 L135.4 370.2 L136.0 369.5 L136.7 368.5 L137.5 367.6 L138.2 366.7 L139.0 366.0 L140.1 365.2 L141.2 364.7 L142.5 364.4 L143.5 364.4 L144.6 364.5 L145.8 364.7 L147.0 365.0 L148.0 365.3 L149.2 365.7 L150.3 366.1 L151.4 366.5 L152.5 367.0 L153.5 367.5 L154.5 368.1 L155.5 368.7 L156.5 369.3 L157.5 370.0 L158.3 370.6 L159.2 371.2 L160.0 371.8 L160.9 372.5 L161.7 373.1 L162.5 373.8 L163.4 374.5 L164.4 375.3 L165.3 376.1 L166.1 376.9 L167.0 377.5 L168.0 378.1 L169.0 378.7 L170.0 379.1 L171.0 379.6 L172.0 380.2 L173.0 380.8 L174.0 381.3 L175.0 381.5 L175.9 381.3 L176.8 380.7 L177.7 379.9 L178.5 379.0 L179.0 378.3 L179.5 377.4 L180.0 376.5 L180.5 375.5 L181.0 374.5 L181.5 373.5 L182.0 372.5 L182.5 371.6 L183.0 370.6 L183.4 369.6 L184.0 368.6 L184.5 367.5 L185.0 366.5 L185.5 365.5 L186.1 364.4 L186.6 363.3 L187.2 362.3 L187.8 361.3 L188.3 360.5 L189.1 359.5 L189.8 358.8 L190.6 358.1 L191.3 357.5 L192.0 357.0 L193.0 356.3 L194.0 355.7 L195.0 355.3 L196.2 354.9 L197.4 354.5 L198.8 354.4 L199.8 354.6 L200.9 354.9 L202.0 355.2 L203.0 355.5 L204.2 355.7 L205.2 355.7 L206.2 355.6 L207.2 355.3 L208.0 354.8 L209.0 354.0 L209.6 353.4 L210.2 352.7 L210.9 352.0 L211.6 351.1 L212.5 350.0 L213.1 349.3 L213.7 348.5 L214.4 347.6 L215.2 346.7 L215.9 345.8 L216.7 344.9 L217.4 344.0 L218.1 343.2 L218.8 342.5 L219.6 341.6 L220.5 340.7 L221.2 340.0 L222.0 339.3 L222.9 338.7 L223.8 338.0 L224.6 337.5 L225.4 337.0 L226.3 336.5 L227.3 336.1 L228.2 335.6 L229.1 335.1 L230.0 334.4 L230.8 333.7 L231.6 333.0 L232.4 332.3 L233.2 331.5 L234.0 330.6 L234.8 329.8 L235.5 328.9 L236.2 328.0 L236.9 327.2 L237.4 326.3 L238.0 325.4 L238.6 324.5 L239.1 323.6 L239.6 322.7 L240.2 321.7 L240.7 320.9 L241.2 320.0 L241.9 319.1 L242.5 318.1 L243.1 317.2 L243.8 316.2 L244.4 315.3 L245.0 314.5 L245.6 313.7 L246.2 313.0 L247.1 312.2 L247.9 311.5 L248.7 310.9 L249.5 310.3 L250.3 309.9 L251.2 309.4 L252.2 309.0 L253.3 308.7 L254.4 308.4 L255.5 308.2 L256.5 307.9 L257.5 307.5 L258.6 307.0 L259.6 306.4 L260.6 305.8 L261.5 305.1 L262.5 304.4 L263.4 303.7 L264.3 303.0 L265.2 302.2 L266.0 301.4 L266.8 300.6 L267.5 300.0 L268.4 299.1 L269.0 298.5 L270.0 297.5 L270.6 296.9 L271.3 296.2 L272.1 295.5 L272.9 294.7 L273.7 293.9 L274.6 293.2 L275.4 292.5 L276.2 292.0 L277.3 291.6 L278.3 291.3 L279.4 291.2 L280.4 291.1 L281.5 291.0 L282.5 290.6 L283.4 290.2 L284.3 289.7 L285.2 289.1 L286.1 288.5 L287.0 287.8 L287.9 287.1 L288.8 286.2 L289.5 285.5 L290.2 284.7 L291.0 283.8 L291.7 282.9 L292.4 281.9 L293.2 281.0 L293.8 280.2 L294.4 279.4 L295.0 278.8 L296.0 277.7 L296.8 277.0 L297.4 276.5 L298.0 276.0 L299.0 275.2 L300.0 275.0 L301.1 275.2 L302.4 275.6 L303.8 276.2 L304.5 276.8 L305.2 277.5 L305.9 278.3 L306.7 279.1 L307.5 280.0 L308.1 280.7 L308.8 281.4 L309.6 282.2 L310.3 283.0 L311.0 283.8 L311.8 284.4 L312.5 285.0 L313.5 285.6 L314.5 286.2 L315.5 286.6 L316.5 286.9 L317.5 286.9 L318.5 286.7 L319.5 286.4 L320.5 285.8 L321.5 285.2 L322.5 284.4 L323.2 283.7 L323.9 283.0 L324.6 282.1 L325.4 281.2 L326.1 280.3 L326.8 279.5 L327.5 278.8 L328.3 277.9 L329.2 277.2 L330.1 276.4 L330.9 275.8 L331.7 275.2 L332.5 274.8 L333.8 274.3 L335.0 274.2 L336.2 274.4 L337.2 274.7 L338.2 275.2 L339.2 275.8 L340.2 276.4 L341.2 276.9 L342.2 277.3 L343.2 277.7 L344.2 278.1 L345.2 278.3 L346.2 278.5 L347.2 278.5 L348.2 278.4 L349.2 278.2 L350.2 278.1 L351.2 278.0 L352.3 278.0 L353.3 278.1 L354.3 278.3 L355.3 278.5 L356.2 278.8 L357.2 279.2 L358.1 279.7 L359.0 280.4 L360.0 281.2 L360.6 281.9 L361.3 282.6 L362.1 283.3 L362.8 284.2 L363.5 284.9 L364.3 285.6 L365.0 286.2 L366.0 286.9 L367.1 287.6 L368.1 288.1 L369.1 288.4 L370.0 288.8 L371.3 289.0 L372.5 289.0 L373.8 288.8 L374.7 288.4 L375.5 287.9 L376.5 287.2 L377.5 286.2 L378.1 285.6 L378.7 284.9 L379.3 284.1 L380.0 283.3 L380.7 282.4 L381.3 281.6 L381.9 280.7 L382.5 280.0 L383.2 279.1 L383.8 278.2 L384.5 277.3 L385.0 276.5 L385.6 275.7 L386.2 275.0 L387.0 274.2 L387.6 273.5 L388.3 272.9 L389.1 272.1 L390.0 271.2 L390.7 270.6 L391.4 269.9 L392.2 269.1 L393.0 268.4 L393.9 267.5 L394.7 266.7 L395.5 265.9 L396.2 265.0 L396.9 264.2 L397.5 263.4 L398.1 262.6 L398.6 261.8 L399.2 260.9 L399.7 260.0 L400.2 259.2 L400.8 258.3 L401.2 257.5 L401.8 256.6 L402.3 255.6 L402.7 254.6 L403.2 253.7 L403.6 252.7 L404.1 251.8 L404.5 250.9 L405.0 250.0 L405.5 249.0 L406.0 248.1 L406.5 247.1 L407.1 246.2 L407.6 245.3 L408.1 244.5 L408.8 243.8 L409.5 243.0 L410.3 242.2 L411.1 241.6 L411.9 241.0 L412.8 240.5 L413.8 240.0 L414.7 239.6 L415.8 239.4 L416.9 239.2 L418.0 239.1 L419.0 238.9 L420.0 238.8 L421.1 238.5 L422.1 238.3 L423.1 238.1 L424.1 237.8 L425.0 237.5 L426.0 237.1 L427.0 236.6 L427.8 235.9 L428.8 235.0 L429.3 234.3 L429.8 233.5 L430.4 232.6 L430.9 231.6 L431.4 230.6 L432.0 229.7 L432.5 228.8 L433.0 227.8 L433.6 226.9 L434.1 226.0 L434.6 225.1 L435.2 224.2 L435.7 223.3 L436.2 222.5 L437.0 221.5 L437.7 220.5 L438.4 219.6 L439.2 218.7 L440.0 218.0 L440.9 217.4 L441.9 216.9 L442.9 216.5 L444.0 216.1 L445.0 215.6 L446.0 215.1 L447.1 214.6 L448.1 214.1 L449.1 213.6 L450.0 213.0 L450.9 212.4 L451.6 211.7 L452.4 211.0 L453.1 210.3 L453.8 209.4 L454.2 208.6 L454.7 207.7 L455.1 206.8 L455.5 205.8 L455.8 204.8 L456.2 203.8 L456.6 202.8 L457.0 201.7 L457.3 200.6 L457.7 199.5 L458.0 198.4 L458.4 197.3 L458.8 196.2 L459.2 195.2 L459.5 194.2 L459.9 193.3 L460.3 192.3 L460.8 191.2 L461.2 190.0 L461.6 189.2 L461.9 188.2 L462.3 187.3 L462.7 186.3 L463.0 185.2 L463.4 184.2 L463.8 183.1 L464.2 182.1 L464.6 181.0 L465.0 180.0 L465.4 179.0 L465.8 178.0 L466.1 176.9 L466.5 175.9 L466.9 174.8 L467.2 173.8 L467.6 172.8 L468.0 171.8 L468.4 170.9 L468.8 170.0 L469.2 168.9 L469.7 167.9 L470.2 166.8 L470.6 165.9 L471.1 164.9 L471.6 164.1 L472.0 163.2 L472.5 162.5 L473.2 161.5 L474.0 160.6 L474.8 159.9 L475.5 159.3 L476.2 158.8 L477.5 158.1 L478.7 157.8 L480.0 157.8 L480.9 157.9 L481.9 158.1 L482.9 158.4 L484.0 158.9 L485.0 159.4 L485.8 160.0 L486.7 160.7 L487.5 161.4 L488.3 162.2 L489.2 163.0 L490.0 163.8 L490.8 164.5 L491.7 165.2 L492.6 166.0 L493.4 166.7 L494.2 167.3 L495.0 167.8 L496.3 168.4 L497.5 168.7 L498.8 168.8 L500.0 168.6 L501.2 168.2 L502.5 167.5 L503.2 166.9 L504.0 166.3 L504.8 165.6 L505.5 164.7 L506.2 163.8 L506.8 163.0 L507.3 162.2 L507.9 161.4 L508.4 160.5 L508.9 159.5 L509.5 158.5 L510.0 157.5 L510.4 156.6 L510.8 155.6 L511.3 154.6 L511.7 153.5 L512.1 152.5 L512.5 151.4 L513.0 150.4 L513.4 149.5 L513.8 148.8 L514.4 147.6 L515.1 146.6 L515.7 145.7 L516.3 145.0 L516.9 144.4 L517.9 143.6 L519.0 143.2 L520.0 143.0 L521.0 143.1 L522.0 143.4 L523.0 144.4 L523.5 145.1 L523.9 145.9 L524.4 146.9 L524.9 147.9 L525.3 149.0 L525.8 150.1 L526.2 151.2 L526.6 152.1 L527.0 153.1 L527.3 154.1 L527.7 155.1 L528.0 156.1 L528.4 157.1 L528.7 158.1 L529.1 159.1 L529.4 160.0 L529.8 161.0 L530.2 162.0 L530.6 163.0 L531.0 164.0 L531.4 165.0 L531.8 165.9 L532.1 166.7 L532.5 167.5 L533.0 168.6 L533.5 169.6 L534.0 170.5 L534.5 171.3 L535.0 171.9 L536.2 172.8 L537.5 173.0 L538.3 172.8 L539.1 172.3 L540.0 171.2 L540.5 170.5 L541.0 169.6 L541.5 168.6 L542.0 167.4 L542.5 166.2 L543.0 165.0 L543.4 164.1 L543.7 163.2 L544.1 162.3 L544.4 161.3 L544.8 160.3 L545.2 159.3 L545.5 158.2 L545.9 157.2 L546.2 156.2 L546.6 155.3 L547.0 154.3 L547.3 153.2 L547.7 152.2 L548.0 151.2 L548.4 150.2 L548.7 149.3 L549.1 148.4 L549.4 147.5 L549.9 146.3 L550.5 145.1 L551.0 144.1 L551.5 143.1 L552.0 142.1 L552.5 141.2 L553.1 140.1 L553.7 139.0 L554.3 138.2 L555.0 137.5 L556.2 137.0 L557.5 136.8 L558.8 136.9 L559.7 137.1 L560.5 137.5 L561.5 138.0 L562.5 138.8 L563.1 139.3 L563.8 140.0 L564.6 140.7 L565.3 141.5 L566.0 142.3 L566.8 143.0 L567.5 143.8 L568.3 144.5 L569.2 145.3 L570.0 146.0 L570.8 146.7 L571.7 147.4 L572.5 148.0 L573.5 148.7 L574.6 149.3 L575.6 149.8 L576.6 150.2 L577.5 150.6 L578.8 151.0 L580.0 151.2 L581.2 151.2 L582.5 151.1 L583.8 150.7 L585.0 150.0 L585.8 149.4 L586.5 148.8 L587.2 148.1 L588.0 147.2 L588.8 146.2 L589.3 145.5 L589.8 144.7 L590.4 143.8 L590.9 142.9 L591.4 141.9 L592.0 141.0 L592.5 140.0 L593.0 139.1 L593.4 138.2 L593.9 137.2 L594.4 136.2 L594.8 135.3 L595.3 134.3 L595.8 133.4 L596.2 132.5 L596.8 131.5 L597.3 130.6 L597.9 129.6 L598.4 128.7 L598.9 127.8 L599.5 127.0 L600.0 126.2 L600.8 125.3 L601.5 124.5 L602.2 123.8 L603.0 123.1 L603.8 122.5 L604.7 121.8 L605.6 121.1 L606.6 120.5 L607.5 120.0 L608.8 119.5 L610.0 119.2 L611.2 118.8 L612.2 118.4 L613.1 118.0 L614.1 117.6 L615.0 116.9 L615.8 116.2 L616.5 115.5 L617.2 114.6 L618.0 113.6 L618.8 112.5 L619.2 111.7 L619.7 110.9 L620.2 110.0 L620.6 109.0 L621.1 108.0 L621.6 107.0 L622.0 106.0 L622.5 105.0 L622.9 104.1 L623.3 103.1 L623.8 102.1 L624.2 101.1 L624.6 100.0 L625.0 99.0 L625.4 98.1 L625.8 97.1 L626.2 96.2 L626.8 95.2 L627.4 94.2 L627.9 93.2 L628.5 92.3 L629.0 91.5 L629.5 90.7 L630.0 90.0 L630.8 88.9 L631.6 88.1 L632.3 87.4 L632.8 86.9" stroke="#89a54e" stroke-width="3.35"/>
<path d="M119.0 545.0 L119.3 551.0 L119.7 548.2 L120.0 548.0 L120.5 558.1 L121.0 567.9 L121.5 575.5 L122.0 563.4 L122.5 555.9 L123.0 546.0 L123.5 548.0 L124.0 547.2 L124.5 547.0 L125.0 557.2 L125.6 561.0 L125.9 549.6 L126.3 537.0 L126.8 525.3 L127.2 506.0 L127.6 495.0 L128.0 487.0 L128.5 478.9 L128.9 473.6 L129.4 467.0 L129.9 463.5 L130.5 456.0 L131.0 451.9 L131.5 448.0 L131.9 443.8 L132.3 445.0 L132.7 452.4 L133.1 462.0 L133.4 451.2 L133.8 440.0 L134.2 431.9 L134.6 424.7 L135.0 420.0 L135.5 412.2 L136.0 402.0 L136.5 388.3 L137.0 376.1 L137.5 370.0 L138.0 353.2 L138.5 340.0 L138.9 332.7 L139.4 318.8 L139.9 311.2 L140.3 308.0 L140.8 302.9 L141.2 303.8 L141.8 309.1 L142.3 312.0 L142.9 316.0 L143.4 318.0 L143.9 308.0 L144.5 306.0 L145.1 304.4 L145.6 303.8 L146.1 308.8 L146.5 310.0 L147.0 318.0 L147.5 321.0 L148.0 332.6 L148.5 340.0 L149.0 351.4 L149.5 360.0 L150.0 380.0 L150.5 407.0 L151.0 417.7 L151.5 430.0 L151.8 445.8 L152.2 450.0 L152.5 477.0 L153.0 462.3 L153.4 453.5 L153.9 449.0 L154.2 442.3 L154.6 427.0 L155.1 425.8 L155.5 429.5 L156.0 432.0 L156.5 431.3 L156.9 437.9 L157.4 445.0 L157.8 439.2 L158.2 433.7 L158.6 428.8 L159.0 428.0 L159.4 428.1 L159.9 427.8 L160.4 427.6 L160.8 420.0 L161.2 426.3 L161.6 431.4 L162.0 435.0 L162.4 439.3 L162.8 448.4 L163.2 462.6 L163.6 467.5 L164.1 461.6 L164.5 459.9 L165.0 450.0 L165.4 451.1 L165.8 448.6 L166.2 443.6 L166.6 440.2 L167.0 438.0 L167.5 443.8 L168.0 453.3 L168.5 456.4 L169.0 447.3 L169.4 443.2 L169.9 435.6 L170.3 436.4 L170.7 443.6 L171.1 452.7 L171.5 455.0 L171.9 454.6 L172.3 458.5 L172.8 462.3 L173.2 465.7 L173.6 475.0 L174.0 475.8 L174.4 474.3 L174.8 463.9 L175.2 455.2 L175.6 451.4 L176.0 449.4 L176.5 441.1 L177.0 431.6 L177.5 421.7 L177.9 417.0 L178.3 413.1 L178.8 407.7 L179.2 403.2 L179.6 399.4 L180.0 398.2 L180.4 398.7 L180.9 398.7 L181.3 400.6 L181.7 400.6 L182.2 399.3 L182.6 397.2 L183.0 396.0 L183.4 397.2 L183.8 396.6 L184.2 397.1 L184.7 397.2 L185.1 394.8 L185.5 392.0 L185.9 391.3 L186.3 390.8 L186.7 390.1 L187.1 387.8 L187.5 388.0 L188.0 384.3 L188.5 378.9 L189.0 380.0 L189.5 376.0 L190.0 370.0 L190.5 365.0 L190.9 362.4 L191.3 360.1 L191.7 352.0 L192.1 348.1 L192.6 347.4 L193.0 342.0 L193.5 339.2 L193.9 338.7 L194.4 338.0 L194.9 342.2 L195.3 340.4 L195.8 341.0 L196.3 345.4 L196.8 352.0 L197.2 362.7 L197.5 365.0 L198.0 375.3 L198.5 380.0 L199.0 387.0 L199.5 389.1 L200.0 395.0 L200.4 398.8 L200.8 399.6 L201.2 401.1 L201.7 404.0 L202.1 405.5 L202.5 406.4 L202.9 408.2 L203.3 408.7 L203.8 406.7 L204.2 408.7 L204.6 407.1 L205.0 407.5 L205.4 409.4 L205.9 412.3 L206.3 416.4 L206.7 419.4 L207.1 422.9 L207.6 422.5 L208.0 421.7 L208.5 425.0 L208.9 424.8 L209.4 424.4 L209.9 423.1 L210.3 427.8 L210.8 431.4 L211.2 432.6 L211.7 431.9 L212.1 431.6 L212.5 428.8 L212.9 423.5 L213.4 420.1 L213.9 411.3 L214.3 407.8 L214.8 407.9 L215.3 405.4 L215.8 399.0 L216.2 400.0 L216.7 396.7 L217.1 392.3 L217.6 390.2 L218.0 388.0 L218.4 385.7 L218.8 377.8 L219.2 374.7 L219.6 372.4 L220.0 370.0 L220.5 366.9 L221.0 362.5 L221.5 362.0 L222.0 360.0 L222.5 357.9 L223.0 358.8 L223.4 361.2 L223.8 359.1 L224.2 361.3 L224.6 360.2 L225.0 365.0 L225.5 367.3 L225.9 367.5 L226.4 369.1 L226.9 372.5 L227.3 371.7 L227.7 373.7 L228.1 372.6 L228.5 374.0 L229.0 377.5 L229.5 381.2 L230.0 380.0 L230.4 383.7 L230.8 382.5 L231.2 382.5 L231.7 382.5 L232.1 389.1 L232.6 390.7 L233.0 395.0 L233.4 397.0 L233.8 399.4 L234.2 400.6 L234.6 403.6 L235.0 410.0 L235.5 403.9 L236.0 399.0 L236.5 395.0 L237.0 393.0 L237.5 388.8 L238.0 385.4 L238.5 385.7 L239.0 380.0 L239.5 374.2 L240.0 372.0 L240.4 363.6 L240.8 353.4 L241.2 345.0 L241.7 343.9 L242.1 339.9 L242.5 335.0 L242.9 332.1 L243.3 332.7 L243.8 330.0 L244.2 329.9 L244.6 330.2 L245.0 328.8 L245.5 330.6 L246.0 330.1 L246.5 333.0 L247.0 330.1 L247.5 331.3 L248.0 331.2 L248.5 332.7 L249.0 340.0 L249.5 344.6 L250.0 345.0 L250.4 350.5 L250.8 358.6 L251.2 365.0 L251.7 370.1 L252.1 375.1 L252.5 380.0 L252.9 381.9 L253.3 386.1 L253.8 388.8 L254.2 392.9 L254.6 391.5 L255.0 396.7 L255.4 402.8 L255.8 405.3 L256.2 407.5 L256.7 414.6 L257.1 413.6 L257.6 417.4 L258.0 425.6 L258.5 420.5 L259.0 418.9 L259.5 420.0 L260.1 417.3 L260.6 416.0 L261.1 407.5 L261.5 395.0 L262.0 388.3 L262.5 382.5 L263.0 379.7 L263.5 375.0 L264.0 372.4 L264.5 368.0 L264.9 365.6 L265.4 366.0 L265.8 364.7 L266.2 361.2 L266.7 360.1 L267.1 366.7 L267.5 370.0 L268.0 388.8 L268.4 390.4 L268.8 387.6 L269.2 387.6 L269.6 388.0 L270.0 392.0 L270.4 396.7 L270.8 400.2 L271.2 405.1 L271.7 404.6 L272.1 410.6 L272.5 415.0 L273.0 406.0 L273.5 401.5 L274.0 398.0 L274.5 392.6 L275.0 388.8 L275.5 387.9 L275.9 386.9 L276.4 384.6 L276.9 381.0 L277.3 387.6 L277.7 391.2 L278.1 391.0 L278.5 390.0 L279.0 396.3 L279.5 401.0 L280.0 407.5 L280.5 419.9 L280.9 428.6 L281.4 439.7 L281.9 445.6 L282.3 439.4 L282.7 434.6 L283.1 431.2 L283.5 425.0 L284.0 420.5 L284.5 417.2 L285.0 413.8 L285.4 413.4 L285.8 412.1 L286.2 409.7 L286.6 409.6 L287.0 408.0 L287.5 402.9 L288.0 398.3 L288.5 395.0 L289.0 391.7 L289.5 389.0 L290.0 386.0 L290.4 385.0 L290.9 383.3 L291.3 379.2 L291.7 378.8 L292.1 379.7 L292.6 379.3 L293.0 377.5 L293.4 380.2 L293.8 379.8 L294.2 377.4 L294.6 379.3 L295.0 379.0 L295.4 381.2 L295.8 380.8 L296.2 377.8 L296.6 377.8 L297.0 380.0 L297.5 380.0 L298.0 377.8 L298.5 377.0 L299.0 376.6 L299.5 376.2 L300.0 375.0 L300.5 380.0 L301.0 383.3 L301.5 385.0 L302.0 391.4 L302.5 400.2 L303.0 407.5 L303.5 418.2 L303.9 424.3 L304.4 432.5 L304.9 427.4 L305.5 420.0 L305.9 417.4 L306.2 413.8 L306.7 416.1 L307.1 416.0 L307.6 421.9 L308.0 425.0 L308.4 424.6 L308.8 424.9 L309.2 430.7 L309.6 430.0 L310.0 432.0 L310.4 433.8 L310.8 433.4 L311.2 430.8 L311.7 430.8 L312.1 430.9 L312.5 433.0 L313.0 424.8 L313.5 415.0 L314.0 412.0 L314.5 408.2 L315.0 403.8 L315.4 406.6 L315.8 408.9 L316.2 413.2 L316.6 413.6 L317.0 415.0 L317.5 421.4 L318.0 424.6 L318.5 430.0 L319.0 430.1 L319.5 433.0 L320.0 438.8 L320.4 442.7 L320.8 445.2 L321.2 447.4 L321.7 447.0 L322.1 453.7 L322.5 457.5 L322.9 462.3 L323.4 462.8 L323.8 464.5 L324.2 463.3 L324.6 459.3 L325.1 455.7 L325.5 445.9 L326.0 440.1 L326.4 435.8 L326.9 426.2 L327.4 423.4 L327.8 422.2 L328.3 421.9 L328.8 420.0 L329.2 420.2 L329.6 420.8 L330.0 422.3 L330.4 423.9 L330.8 427.3 L331.2 430.0 L331.7 424.2 L332.1 420.2 L332.5 415.0 L332.9 411.0 L333.3 409.1 L333.8 407.5 L334.2 408.0 L334.6 403.9 L335.1 400.6 L335.5 400.0 L335.9 398.3 L336.3 396.4 L336.7 395.1 L337.1 392.2 L337.5 392.5 L338.0 397.3 L338.4 401.2 L338.9 403.8 L339.4 407.5 L339.8 406.3 L340.2 406.3 L340.6 408.3 L341.0 408.0 L341.4 414.0 L341.8 420.0 L342.2 422.5 L342.6 427.6 L343.0 432.5 L343.4 438.1 L343.9 444.0 L344.3 448.6 L344.7 451.3 L345.2 455.6 L345.6 460.0 L346.1 472.1 L346.7 483.3 L347.1 477.4 L347.6 470.1 L348.0 465.0 L348.5 469.8 L349.0 473.8 L349.5 480.0 L350.1 449.3 L350.6 420.0 L351.1 421.0 L351.5 420.0 L352.0 425.0 L352.4 416.0 L352.9 410.1 L353.3 402.1 L353.8 396.2 L354.2 393.8 L354.6 393.8 L355.0 393.8 L355.4 393.8 L355.8 394.6 L356.2 395.0 L356.7 397.2 L357.1 398.2 L357.6 398.2 L358.1 398.2 L358.5 398.2 L358.9 398.2 L359.4 397.0 L359.9 404.0 L360.3 406.1 L360.8 411.0 L361.2 420.0 L361.7 422.1 L362.1 424.7 L362.6 429.9 L363.0 432.5 L363.4 434.1 L363.8 438.1 L364.2 442.8 L364.6 447.7 L365.0 449.4 L365.4 448.3 L365.8 447.1 L366.2 442.2 L366.6 437.9 L367.0 432.0 L367.4 436.1 L367.8 435.5 L368.2 438.0 L368.7 438.0 L369.1 437.4 L369.5 440.0 L369.9 439.6 L370.4 436.2 L370.8 431.4 L371.2 429.8 L371.6 426.4 L372.1 423.7 L372.5 423.8 L372.9 425.5 L373.3 423.6 L373.7 427.8 L374.1 427.0 L374.5 428.0 L374.9 431.2 L375.4 435.7 L375.8 436.5 L376.2 445.0 L376.7 440.3 L377.1 429.9 L377.6 418.8 L378.0 407.5 L378.5 406.3 L378.9 401.4 L379.4 397.5 L379.9 396.7 L380.3 396.3 L380.8 393.8 L381.2 393.8 L381.7 393.8 L382.1 396.9 L382.6 400.8 L383.0 405.0 L383.4 408.7 L383.8 410.9 L384.2 415.5 L384.6 418.6 L385.0 426.2 L385.4 430.1 L385.8 431.9 L386.2 433.0 L386.7 433.6 L387.1 433.7 L387.5 435.0 L388.0 426.9 L388.4 419.2 L388.9 411.7 L389.4 407.5 L389.9 398.9 L390.3 392.0 L390.8 391.1 L391.2 380.0 L391.7 372.3 L392.1 366.2 L392.5 360.0 L393.0 363.8 L393.5 366.3 L394.0 370.0 L394.4 369.6 L394.8 370.8 L395.2 366.2 L395.6 363.8 L396.1 370.7 L396.5 375.4 L397.0 380.0 L397.4 387.2 L397.9 391.6 L398.3 398.8 L398.8 406.2 L399.2 404.0 L399.6 402.2 L400.1 399.0 L400.6 393.0 L401.0 390.0 L401.5 389.6 L401.9 387.1 L402.4 385.5 L402.8 385.8 L403.3 382.5 L403.8 382.5 L404.2 383.3 L404.6 378.7 L405.1 375.7 L405.5 372.0 L406.0 365.2 L406.4 355.7 L406.9 347.5 L407.4 335.5 L408.0 325.0 L408.5 328.6 L409.0 328.2 L409.5 335.0 L410.1 349.4 L410.6 358.0 L411.1 345.0 L411.5 330.0 L412.0 321.3 L412.5 312.5 L413.0 306.9 L413.5 304.1 L414.0 305.0 L414.4 303.0 L414.8 300.1 L415.2 296.4 L415.6 293.0 L416.2 330.0 L416.5 400.0 L417.0 396.3 L417.5 395.5 L418.0 392.0 L418.5 392.9 L418.9 398.2 L419.4 397.4 L419.9 396.3 L420.3 397.8 L420.8 398.7 L421.2 397.5 L421.7 391.6 L422.1 388.9 L422.6 386.2 L423.0 380.0 L423.4 378.3 L423.8 375.8 L424.2 375.5 L424.6 374.0 L425.0 372.5 L425.4 366.0 L425.8 362.6 L426.2 360.0 L426.7 364.4 L427.1 371.5 L427.5 375.0 L428.0 376.8 L428.5 380.0 L429.0 385.0 L429.5 382.7 L430.0 381.0 L430.5 380.0 L430.9 385.2 L431.3 393.8 L431.7 400.9 L432.1 410.2 L432.5 416.2 L433.0 406.0 L433.5 400.3 L434.0 395.0 L434.4 390.7 L434.8 389.5 L435.2 385.7 L435.6 381.2 L436.1 386.7 L436.6 387.7 L437.0 390.6 L437.5 395.0 L438.0 392.0 L438.4 386.8 L438.9 382.6 L439.4 376.2 L439.8 375.1 L440.2 377.0 L440.6 373.8 L441.1 380.7 L441.6 381.1 L442.0 382.9 L442.5 385.0 L443.0 390.7 L443.4 391.4 L443.9 390.2 L444.4 395.0 L444.8 392.8 L445.2 390.2 L445.7 392.0 L446.1 388.4 L446.5 385.0 L446.9 385.8 L447.3 385.4 L447.7 386.2 L448.2 384.0 L448.6 381.9 L449.0 373.2 L449.4 373.8 L449.8 375.0 L450.2 379.1 L450.6 385.9 L451.0 388.0 L451.4 391.0 L451.8 393.5 L452.2 395.3 L452.6 397.5 L453.0 402.5 L453.4 398.5 L453.8 394.5 L454.2 390.1 L454.6 388.0 L455.0 385.0 L455.4 380.7 L455.8 378.1 L456.2 373.8 L456.7 368.1 L457.1 368.1 L457.5 366.0 L458.0 358.2 L458.5 354.9 L459.0 350.0 L459.5 344.0 L460.0 345.0 L460.5 344.0 L461.0 344.3 L461.5 343.0 L462.0 348.2 L462.5 350.3 L463.0 358.0 L463.4 354.3 L463.8 349.9 L464.2 346.9 L464.6 343.3 L465.0 341.0 L465.4 340.8 L465.8 341.3 L466.2 339.8 L466.7 339.8 L467.1 339.8 L467.5 342.5 L468.0 297.5 L468.5 297.5 L469.0 298.0 L469.5 309.1 L470.0 316.0 L470.4 323.4 L470.8 332.9 L471.2 338.8 L471.7 341.6 L472.1 340.1 L472.6 340.7 L473.1 340.6 L473.5 341.0 L474.0 359.6 L474.5 381.0 L474.9 369.0 L475.4 357.2 L475.8 347.8 L476.2 335.0 L476.6 330.9 L477.1 327.0 L477.5 321.2 L478.0 325.3 L478.4 324.9 L478.9 329.5 L479.4 329.0 L479.8 329.9 L480.2 331.1 L480.6 332.7 L481.1 337.0 L481.5 339.7 L481.9 341.2 L482.4 352.0 L483.0 365.0 L483.4 366.3 L483.8 368.3 L484.2 372.3 L484.6 373.7 L485.0 372.5 L485.4 380.2 L485.8 387.4 L486.2 385.3 L486.7 387.4 L487.1 390.6 L487.5 395.0 L487.9 400.4 L488.3 403.8 L488.8 405.5 L489.2 409.7 L489.6 415.9 L490.0 417.5 L490.4 416.7 L490.9 418.0 L491.3 416.3 L491.7 416.3 L492.1 416.5 L492.6 418.9 L493.0 418.8 L493.5 426.5 L493.9 435.4 L494.4 445.0 L494.8 452.5 L495.2 461.4 L495.6 472.0 L496.1 467.4 L496.5 463.9 L497.0 455.0 L497.4 457.8 L497.9 456.0 L498.3 463.9 L498.8 466.0 L499.1 454.9 L499.5 445.0 L499.9 438.8 L500.4 436.7 L500.8 433.4 L501.2 426.2 L501.7 422.6 L502.1 420.9 L502.6 412.5 L503.0 410.0 L503.4 409.5 L503.8 409.6 L504.2 409.6 L504.7 411.5 L505.1 410.0 L505.5 411.0 L505.9 408.2 L506.3 407.8 L506.7 404.1 L507.1 402.6 L507.5 403.8 L507.9 404.4 L508.4 403.7 L508.8 400.8 L509.2 400.8 L509.7 400.8 L510.1 400.8 L510.6 401.2 L511.0 402.0 L511.4 401.4 L511.9 403.2 L512.3 402.4 L512.8 400.6 L513.2 402.0 L513.7 401.6 L514.1 400.4 L514.6 398.6 L515.0 397.5 L515.4 397.2 L515.8 396.4 L516.2 392.1 L516.7 391.3 L517.1 390.1 L517.5 386.2 L517.9 385.5 L518.3 382.4 L518.8 379.2 L519.2 378.5 L519.6 379.0 L520.0 375.0 L520.4 375.5 L520.9 373.8 L521.3 377.8 L521.7 376.3 L522.1 378.5 L522.6 376.6 L523.0 378.0 L523.5 389.1 L523.9 389.7 L524.4 395.0 L524.8 397.6 L525.2 399.0 L525.6 399.1 L526.1 405.3 L526.5 406.2 L526.9 405.0 L527.5 432.5 L528.0 454.1 L528.5 470.0 L528.9 477.2 L529.3 480.6 L529.8 485.6 L530.2 493.1 L530.6 498.0 L531.1 490.5 L531.5 482.2 L532.0 480.4 L532.5 477.5 L532.9 464.8 L533.3 455.8 L533.8 446.0 L534.2 443.7 L534.7 434.9 L535.1 430.5 L535.6 428.8 L536.1 436.4 L536.5 444.4 L537.0 445.0 L537.5 446.5 L538.0 448.8 L538.5 443.9 L538.9 431.2 L539.4 420.0 L539.9 412.6 L540.3 407.1 L540.8 398.7 L541.2 393.8 L541.7 394.1 L542.1 396.7 L542.6 397.6 L543.0 400.0 L543.5 396.0 L544.0 390.1 L544.5 390.0 L544.9 388.9 L545.4 385.9 L545.8 384.6 L546.2 385.0 L546.7 382.6 L547.1 382.1 L547.6 383.1 L548.0 384.0 L548.5 383.0 L548.9 381.8 L549.3 384.6 L549.7 387.1 L550.1 388.9 L550.5 390.0 L550.9 387.3 L551.3 383.1 L551.7 377.5 L552.1 372.6 L552.5 368.0 L552.9 369.5 L553.3 369.7 L553.8 374.0 L554.2 373.9 L554.6 378.2 L555.0 378.8 L555.4 378.1 L555.8 379.6 L556.2 378.6 L556.7 375.5 L557.1 374.1 L557.5 373.0 L557.9 371.8 L558.4 371.8 L558.8 371.8 L559.3 371.8 L559.7 371.8 L560.2 371.8 L560.6 373.0 L561.1 376.6 L561.5 379.4 L562.0 380.4 L562.4 381.9 L562.9 382.9 L563.3 383.8 L563.8 385.0 L564.2 385.4 L564.7 388.8 L565.1 393.0 L565.6 395.0 L566.0 399.9 L566.5 406.0" stroke="#71588f" stroke-width="3.4"/>
<path d="M119.4 499.4 L119.6 500.2 L119.8 501.2 L120.1 502.5 L120.4 503.8 L120.7 505.0 L121.0 506.0 L121.5 507.6 L122.0 508.9 L122.5 509.4 L123.0 508.9 L123.5 507.6 L124.0 506.0 L124.3 505.3 L124.5 504.6 L124.8 503.8 L125.0 502.9 L125.3 501.6 L125.6 500.0 L125.7 499.3 L125.8 498.5 L125.9 497.6 L126.1 496.7 L126.2 495.8 L126.3 494.8 L126.4 493.7 L126.5 492.7 L126.7 491.6 L126.8 490.5 L126.9 489.4 L127.0 488.2 L127.1 487.1 L127.3 486.0 L127.4 484.9 L127.5 483.8 L127.6 482.8 L127.7 481.7 L127.8 480.7 L127.9 479.6 L128.0 478.6 L128.1 477.5 L128.3 476.4 L128.4 475.3 L128.5 474.2 L128.6 473.1 L128.7 472.0 L128.8 470.9 L128.9 469.9 L129.0 468.8 L129.1 467.8 L129.2 466.8 L129.3 465.9 L129.4 465.0 L129.5 463.8 L129.7 462.7 L129.8 461.6 L129.9 460.5 L130.0 459.5 L130.2 458.6 L130.3 457.6 L130.4 456.7 L130.5 455.7 L130.6 454.8 L130.8 453.9 L130.9 453.0 L131.0 452.0 L131.1 451.0 L131.3 450.0 L131.4 449.0 L131.5 448.0 L131.6 447.1 L131.8 446.1 L131.9 445.2 L132.0 444.2 L132.1 443.2 L132.3 442.2 L132.4 441.1 L132.5 440.0 L132.6 439.1 L132.7 438.3 L132.8 437.4 L132.9 436.6 L133.0 435.8 L133.1 434.9 L133.2 434.1 L133.3 433.2 L133.3 432.2 L133.4 431.2 L133.5 430.2 L133.7 429.0 L133.8 427.8 L133.9 426.4 L134.0 425.0 L134.1 424.2 L134.1 423.4 L134.2 422.6 L134.3 421.7 L134.3 420.8 L134.4 419.8 L134.5 418.9 L134.6 417.9 L134.6 416.9 L134.7 415.8 L134.8 414.8 L134.9 413.7 L134.9 412.6 L135.0 411.5 L135.1 410.4 L135.2 409.3 L135.3 408.2 L135.4 407.1 L135.4 406.1 L135.5 405.0 L135.6 403.9 L135.7 402.8 L135.7 401.8 L135.8 400.7 L135.9 399.7 L136.0 398.7 L136.0 397.7 L136.1 396.8 L136.2 395.9 L136.2 395.0 L136.3 393.8 L136.4 392.7 L136.5 391.5 L136.6 390.4 L136.7 389.3 L136.8 388.2 L136.8 387.1 L136.9 386.0 L137.0 385.0 L137.1 384.0 L137.1 382.9 L137.2 381.9 L137.3 381.0 L137.4 380.0 L137.4 379.1 L137.5 378.1 L137.6 377.2 L137.7 376.3 L137.8 375.5 L137.8 374.6 L137.9 373.8 L138.0 373.0 L138.1 371.7 L138.3 370.5 L138.4 369.3 L138.6 368.2 L138.8 367.1 L138.9 366.1 L139.1 365.1 L139.2 364.2 L139.4 363.3 L139.5 362.5 L139.7 361.6 L139.8 360.8 L140.0 360.0 L140.3 358.7 L140.5 357.5 L140.8 356.4 L141.0 355.3 L141.3 354.3 L141.5 353.5 L141.8 352.7 L142.0 352.0 L142.9 350.4 L143.8 350.0 L144.6 350.4 L145.5 352.0 L145.7 352.7 L146.0 353.5 L146.2 354.4 L146.5 355.3 L146.7 356.4 L147.0 357.5 L147.2 358.7 L147.5 360.0 L147.7 360.8 L147.9 361.7 L148.1 362.6 L148.2 363.4 L148.4 364.3 L148.6 365.3 L148.8 366.3 L149.1 367.4 L149.3 368.5 L149.5 369.7 L149.7 371.1 L150.0 372.5 L150.1 373.3 L150.3 374.1 L150.4 375.0 L150.6 375.9 L150.7 376.8 L150.9 377.8 L151.0 378.8 L151.2 379.8 L151.4 380.8 L151.5 381.8 L151.7 382.9 L151.8 384.0 L152.0 385.0 L152.2 386.1 L152.4 387.2 L152.5 388.3 L152.7 389.4 L152.9 390.5 L153.1 391.6 L153.2 392.7 L153.4 393.8 L153.6 394.9 L153.8 396.0 L153.9 397.0 L154.1 397.9 L154.2 398.9 L154.4 399.9 L154.5 400.9 L154.7 402.0 L154.9 403.0 L155.0 404.0 L155.2 405.1 L155.4 406.1 L155.5 407.2 L155.7 408.2 L155.8 409.3 L156.0 410.3 L156.2 411.4 L156.3 412.4 L156.5 413.4 L156.7 414.4 L156.8 415.4 L157.0 416.3 L157.2 417.3 L157.3 418.2 L157.5 419.1 L157.7 420.0 L157.8 420.9 L158.0 421.7 L158.2 422.9 L158.5 424.1 L158.7 425.2 L159.0 426.3 L159.2 427.4 L159.5 428.5 L159.7 429.5 L160.0 430.4 L160.2 431.4 L160.5 432.3 L160.7 433.2 L161.0 434.1 L161.2 435.0 L161.5 435.8 L161.7 436.7 L162.0 437.5 L162.2 438.3 L162.6 439.5 L163.0 440.8 L163.4 441.9 L163.8 443.1 L164.2 444.2 L164.6 445.2 L165.0 446.2 L165.4 447.1 L165.7 448.0 L166.1 448.7 L166.4 449.4 L167.4 451.2 L168.3 452.1 L169.2 452.2 L169.8 451.9 L170.5 451.4 L171.2 450.6 L171.9 449.5 L172.6 448.0 L172.9 447.3 L173.2 446.4 L173.5 445.5 L173.8 444.5 L174.0 443.5 L174.3 442.4 L174.6 441.3 L174.9 440.1 L175.2 439.0 L175.5 437.8 L175.7 436.7 L176.0 435.6 L176.2 434.7 L176.4 433.7 L176.7 432.7 L176.9 431.7 L177.1 430.7 L177.3 429.7 L177.5 428.7 L177.7 427.7 L177.9 426.7 L178.1 425.7 L178.3 424.7 L178.5 423.7 L178.7 422.7 L178.9 421.7 L179.1 420.7 L179.3 419.7 L179.5 418.7 L179.7 417.7 L179.9 416.7 L180.1 415.7 L180.3 414.7 L180.5 413.8 L180.7 412.8 L180.9 411.8 L181.1 410.8 L181.3 409.8 L181.5 408.8 L181.7 407.8 L181.9 406.8 L182.1 405.8 L182.3 404.8 L182.5 403.9 L182.7 402.9 L182.9 401.9 L183.0 400.9 L183.2 399.9 L183.4 398.9 L183.6 398.0 L183.8 397.0 L184.0 396.0 L184.2 395.0 L184.4 394.0 L184.6 393.0 L184.8 391.9 L185.0 390.9 L185.2 389.8 L185.4 388.6 L185.6 387.5 L185.9 386.4 L186.1 385.4 L186.3 384.3 L186.5 383.3 L186.7 382.4 L186.9 381.5 L187.0 380.7 L187.2 380.0 L187.6 378.4 L188.0 377.2 L188.3 376.4 L188.6 375.7 L189.0 375.0 L189.7 373.7 L190.5 372.7 L191.2 372.5 L191.7 372.8 L192.1 373.3 L192.5 374.1 L193.0 375.3 L193.5 377.0 L193.7 377.7 L193.9 378.5 L194.1 379.4 L194.4 380.4 L194.6 381.4 L194.8 382.4 L195.1 383.5 L195.3 384.7 L195.6 385.8 L195.8 386.9 L196.1 388.0 L196.3 389.1 L196.6 390.1 L196.8 391.1 L197.0 392.0 L197.3 393.2 L197.5 394.3 L197.8 395.3 L198.0 396.3 L198.2 397.3 L198.5 398.3 L198.7 399.2 L198.9 400.2 L199.2 401.1 L199.4 402.1 L199.7 403.0 L200.0 404.1 L200.3 405.1 L200.7 406.2 L201.0 407.3 L201.3 408.3 L201.7 409.3 L202.0 410.3 L202.3 411.3 L202.7 412.2 L203.0 413.0 L203.5 414.3 L204.1 415.5 L204.6 416.5 L205.1 417.5 L205.6 418.3 L206.0 419.0 L207.0 420.5 L208.0 420.3 L208.3 419.8 L208.7 419.0 L209.0 418.1 L209.4 417.1 L209.8 416.0 L210.1 414.7 L210.5 413.4 L210.8 412.0 L211.0 411.2 L211.1 410.3 L211.3 409.4 L211.5 408.5 L211.6 407.6 L211.8 406.6 L211.9 405.6 L212.1 404.6 L212.2 403.5 L212.4 402.5 L212.5 401.4 L212.7 400.3 L212.8 399.1 L213.0 398.0 L213.1 397.1 L213.3 396.1 L213.4 395.2 L213.6 394.2 L213.7 393.1 L213.9 392.1 L214.1 391.0 L214.2 390.0 L214.4 388.9 L214.5 387.8 L214.7 386.8 L214.8 385.7 L215.0 384.7 L215.2 383.7 L215.3 382.7 L215.4 381.8 L215.6 380.9 L215.7 380.0 L215.9 378.8 L216.0 377.6 L216.2 376.4 L216.3 375.3 L216.5 374.2 L216.6 373.2 L216.7 372.2 L216.9 371.2 L217.0 370.2 L217.2 369.3 L217.3 368.4 L217.5 367.5 L217.7 366.3 L218.0 365.2 L218.3 364.1 L218.5 363.1 L218.8 362.1 L219.1 361.2 L219.4 360.3 L219.7 359.5 L220.0 358.8 L220.7 357.3 L221.5 356.0 L222.2 355.2 L223.0 355.0 L223.6 355.4 L224.3 356.1 L224.9 357.2 L225.6 358.5 L226.2 360.0 L226.6 360.8 L226.9 361.8 L227.3 362.8 L227.7 363.9 L228.0 365.0 L228.4 366.2 L228.8 367.3 L229.2 368.3 L229.6 369.2 L230.0 370.0 L230.8 371.2 L231.6 372.3 L232.4 373.2 L233.3 373.9 L234.2 374.3 L235.0 374.4 L235.7 374.1 L236.5 373.6 L237.2 372.8 L237.9 371.9 L238.7 370.9 L239.4 369.8 L240.0 368.8 L240.5 367.9 L240.9 366.9 L241.3 365.9 L241.8 364.9 L242.2 363.8 L242.5 362.8 L242.9 361.8 L243.3 360.8 L243.8 360.0 L244.4 358.8 L245.0 357.6 L245.6 356.6 L246.2 355.7 L246.9 355.1 L247.5 355.0 L248.0 355.2 L248.6 355.7 L249.1 356.5 L249.6 357.5 L250.2 358.6 L250.7 359.9 L251.2 361.2 L251.5 362.0 L251.8 362.9 L252.1 363.8 L252.4 364.8 L252.6 365.9 L252.9 366.9 L253.2 368.0 L253.5 369.2 L253.8 370.2 L254.0 371.3 L254.3 372.3 L254.5 373.3 L254.8 374.2 L255.0 375.0 L255.4 376.4 L255.8 377.5 L256.1 378.4 L256.4 379.3 L256.7 380.2 L257.1 381.2 L257.5 382.5 L257.7 383.3 L258.0 384.2 L258.3 385.2 L258.6 386.2 L258.9 387.3 L259.1 388.3 L259.4 389.4 L259.8 390.5 L260.1 391.5 L260.4 392.5 L260.7 393.4 L261.0 394.3 L261.2 395.0 L261.9 396.4 L262.5 397.6 L263.0 398.7 L263.7 399.5 L264.3 400.2 L265.0 400.6 L265.9 400.8 L266.9 400.6 L267.9 400.1 L269.0 399.6 L270.0 399.0 L270.8 398.5 L271.7 397.8 L272.5 397.1 L273.3 396.4 L274.2 395.9 L275.0 395.6 L276.0 395.7 L276.9 396.0 L277.9 396.6 L278.9 397.3 L280.0 398.0 L280.8 398.7 L281.7 399.6 L282.7 400.5 L283.6 401.5 L284.5 402.2 L285.4 402.7 L286.2 402.8 L286.9 402.4 L287.4 401.9 L288.0 401.2 L288.6 400.3 L289.1 399.3 L289.6 398.2 L290.2 397.1 L290.7 396.0 L291.2 395.0 L291.7 394.1 L292.2 393.2 L292.6 392.2 L293.1 391.2 L293.6 390.2 L294.1 389.2 L294.5 388.2 L295.0 387.3 L295.4 386.4 L295.8 385.7 L296.2 385.0 L297.3 383.5 L298.2 382.4 L299.1 381.8 L300.0 381.9 L300.5 382.3 L301.1 382.9 L301.6 383.6 L302.1 384.6 L302.7 385.8 L303.2 387.2 L303.8 388.8 L304.0 389.5 L304.2 390.3 L304.5 391.2 L304.7 392.2 L305.0 393.2 L305.2 394.2 L305.5 395.3 L305.7 396.4 L305.9 397.5 L306.2 398.6 L306.4 399.7 L306.7 400.8 L306.9 401.9 L307.1 403.0 L307.3 404.0 L307.5 405.0 L307.7 406.0 L307.9 407.1 L308.1 408.1 L308.3 409.2 L308.4 410.2 L308.6 411.2 L308.7 412.2 L308.9 413.2 L309.1 414.2 L309.2 415.2 L309.4 416.2 L309.5 417.2 L309.7 418.1 L309.8 419.1 L310.0 420.0 L310.2 421.2 L310.4 422.3 L310.6 423.5 L310.8 424.6 L311.0 425.7 L311.2 426.8 L311.5 427.9 L311.7 428.9 L311.9 429.9 L312.1 430.9 L312.3 431.7 L312.5 432.5 L312.9 433.9 L313.3 435.2 L313.7 436.3 L314.1 437.1 L314.6 437.7 L315.0 438.0 L315.5 438.0 L316.0 437.7 L316.6 437.0 L317.2 435.8 L318.0 434.0 L318.3 433.3 L318.6 432.6 L318.9 431.8 L319.2 430.9 L319.5 429.9 L319.9 428.9 L320.2 427.9 L320.6 426.8 L320.9 425.7 L321.3 424.6 L321.7 423.5 L322.0 422.4 L322.4 421.3 L322.7 420.3 L323.1 419.3 L323.4 418.4 L323.8 417.5 L324.2 416.3 L324.6 415.1 L325.1 414.0 L325.5 412.8 L326.0 411.7 L326.4 410.6 L326.8 409.6 L327.2 408.6 L327.6 407.7 L328.0 406.9 L328.4 406.2 L328.8 405.6 L329.9 404.2 L330.9 404.0 L331.9 404.4 L332.7 404.7 L333.4 405.2 L334.2 406.2 L335.0 408.0 L335.2 408.7 L335.5 409.5 L335.8 410.4 L336.0 411.4 L336.3 412.5 L336.6 413.6 L336.8 414.8 L337.1 415.9 L337.4 417.1 L337.7 418.3 L337.9 419.4 L338.2 420.5 L338.5 421.5 L338.8 422.5 L339.1 423.7 L339.4 424.9 L339.8 426.0 L340.1 427.2 L340.5 428.3 L340.8 429.4 L341.1 430.4 L341.5 431.4 L341.8 432.3 L342.2 433.1 L342.5 433.8 L343.4 435.2 L344.4 436.2 L345.3 436.5 L346.2 436.2 L346.7 435.8 L347.2 435.2 L347.7 434.3 L348.1 433.4 L348.6 432.3 L349.1 431.1 L349.5 429.9 L350.0 428.8 L350.3 427.8 L350.7 426.8 L351.0 425.8 L351.3 424.7 L351.6 423.5 L352.0 422.4 L352.3 421.3 L352.6 420.2 L353.0 419.2 L353.4 418.3 L353.8 417.5 L354.5 416.3 L355.4 415.2 L356.2 414.3 L357.1 413.6 L358.0 413.2 L358.8 413.0 L359.6 413.2 L360.3 413.9 L361.1 414.9 L361.8 416.1 L362.5 417.5 L362.9 418.3 L363.2 419.2 L363.6 420.1 L364.0 421.2 L364.4 422.2 L364.8 423.3 L365.1 424.4 L365.5 425.5 L365.9 426.5 L366.2 427.5 L366.7 428.6 L367.1 429.7 L367.5 430.8 L367.9 431.9 L368.3 432.9 L368.8 433.9 L369.2 434.8 L369.6 435.6 L370.0 436.2 L370.9 437.4 L371.9 438.2 L372.8 438.4 L373.8 438.0 L374.2 437.5 L374.7 436.8 L375.2 435.9 L375.6 434.9 L376.1 433.8 L376.6 432.5 L377.0 431.3 L377.5 430.0 L377.8 429.2 L378.1 428.3 L378.4 427.4 L378.7 426.4 L378.9 425.4 L379.2 424.4 L379.5 423.4 L379.8 422.3 L380.1 421.3 L380.4 420.3 L380.7 419.3 L381.0 418.4 L381.2 417.5 L381.6 416.4 L382.0 415.3 L382.3 414.2 L382.7 413.1 L383.0 412.1 L383.4 411.1 L383.8 410.1 L384.2 409.2 L384.6 408.3 L385.0 407.5 L385.6 406.5 L386.2 405.7 L386.8 404.9 L387.4 404.1 L388.1 403.4 L388.7 402.7 L389.4 402.0 L390.0 401.2 L390.6 400.5 L391.3 399.7 L391.9 399.0 L392.6 398.3 L393.2 397.5 L393.8 396.7 L394.4 395.9 L395.0 395.0 L395.5 394.2 L395.9 393.3 L396.3 392.5 L396.8 391.6 L397.2 390.6 L397.5 389.6 L397.9 388.6 L398.3 387.5 L398.8 386.2 L399.0 385.4 L399.3 384.6 L399.5 383.7 L399.8 382.8 L400.1 381.9 L400.3 380.9 L400.6 379.9 L400.8 378.9 L401.1 377.9 L401.4 376.8 L401.7 375.8 L401.9 374.7 L402.2 373.6 L402.5 372.5 L402.7 371.6 L403.0 370.7 L403.2 369.7 L403.5 368.7 L403.7 367.7 L404.0 366.6 L404.2 365.6 L404.5 364.5 L404.7 363.4 L405.0 362.4 L405.3 361.3 L405.5 360.3 L405.8 359.3 L406.0 358.4 L406.2 357.5 L406.5 356.6 L406.7 355.8 L406.9 355.0 L407.3 353.6 L407.7 352.3 L408.1 351.2 L408.4 350.1 L408.8 349.2 L409.1 348.3 L409.4 347.6 L409.7 346.9 L410.0 346.2 L411.0 344.6 L411.9 344.4 L412.7 344.8 L413.5 345.8 L414.4 347.5 L414.6 348.2 L414.9 349.1 L415.1 350.0 L415.4 351.0 L415.6 352.1 L415.9 353.2 L416.1 354.3 L416.4 355.4 L416.6 356.5 L416.9 357.5 L417.2 358.5 L417.4 359.5 L417.7 360.5 L417.9 361.5 L418.2 362.5 L418.4 363.5 L418.7 364.5 L418.9 365.5 L419.2 366.5 L419.4 367.5 L419.6 368.5 L419.8 369.5 L420.0 370.5 L420.2 371.4 L420.4 372.4 L420.6 373.4 L420.8 374.5 L421.0 375.7 L421.2 377.0 L421.4 377.9 L421.5 378.8 L421.7 379.9 L421.8 380.9 L421.9 382.1 L422.1 383.2 L422.2 384.4 L422.4 385.5 L422.5 386.7 L422.7 387.8 L422.9 388.9 L423.1 389.9 L423.3 390.9 L423.5 391.7 L423.8 392.5 L424.2 393.8 L424.8 394.9 L425.3 395.9 L425.9 396.8 L426.6 397.5 L427.3 398.0 L428.0 398.5 L428.8 398.8 L429.7 398.8 L430.8 398.5 L431.9 397.9 L433.1 397.3 L434.2 396.7 L435.3 396.3 L436.2 396.2 L437.2 396.6 L438.1 397.1 L438.8 397.9 L439.6 398.8 L440.3 399.9 L441.0 401.0 L441.5 401.8 L441.9 402.8 L442.4 403.8 L442.8 404.8 L443.2 405.9 L443.7 407.0 L444.1 408.1 L444.5 409.1 L445.0 410.0 L445.5 411.1 L446.1 412.2 L446.7 413.4 L447.2 414.5 L447.8 415.5 L448.3 416.3 L448.9 416.8 L449.4 416.9 L449.9 416.6 L450.4 416.1 L450.8 415.2 L451.3 414.1 L451.7 412.9 L452.1 411.5 L452.6 410.1 L453.0 408.8 L453.2 407.9 L453.5 407.1 L453.7 406.2 L454.0 405.3 L454.2 404.4 L454.5 403.4 L454.7 402.5 L454.9 401.4 L455.2 400.4 L455.4 399.4 L455.6 398.3 L455.8 397.2 L456.0 396.1 L456.2 395.0 L456.4 394.1 L456.6 393.1 L456.8 392.1 L456.9 391.1 L457.1 390.1 L457.2 389.0 L457.4 387.9 L457.5 386.9 L457.7 385.8 L457.8 384.7 L458.0 383.6 L458.1 382.6 L458.3 381.5 L458.4 380.5 L458.5 379.5 L458.6 378.5 L458.8 377.5 L458.9 376.4 L459.0 375.4 L459.1 374.4 L459.1 373.5 L459.2 372.5 L459.3 371.6 L459.3 370.6 L459.4 369.7 L459.5 368.7 L459.5 367.8 L459.6 366.8 L459.7 365.8 L459.8 364.7 L459.9 363.6 L460.0 362.5 L460.1 361.6 L460.2 360.7 L460.3 359.7 L460.4 358.8 L460.5 357.8 L460.7 356.7 L460.8 355.7 L460.9 354.7 L461.0 353.6 L461.2 352.6 L461.3 351.5 L461.4 350.5 L461.6 349.4 L461.7 348.4 L461.8 347.4 L462.0 346.3 L462.1 345.3 L462.2 344.4 L462.4 343.4 L462.5 342.5 L462.7 341.4 L462.8 340.3 L463.0 339.1 L463.1 338.1 L463.3 337.0 L463.4 335.9 L463.6 334.9 L463.8 333.8 L463.9 332.8 L464.1 331.8 L464.2 330.8 L464.4 329.9 L464.5 328.9 L464.7 328.0 L464.8 327.1 L465.0 326.2 L465.2 325.0 L465.5 323.8 L465.7 322.6 L465.9 321.5 L466.1 320.4 L466.4 319.3 L466.6 318.3 L466.8 317.4 L467.0 316.5 L467.3 315.7 L467.5 315.0 L468.1 313.4 L468.8 312.2 L469.4 311.5 L470.0 311.2 L470.6 311.5 L471.2 312.2 L471.9 313.4 L472.5 315.0 L472.7 315.7 L473.0 316.5 L473.2 317.4 L473.4 318.3 L473.6 319.3 L473.9 320.4 L474.1 321.5 L474.3 322.6 L474.5 323.8 L474.8 325.0 L475.0 326.2 L475.2 327.1 L475.3 328.0 L475.5 328.9 L475.6 329.9 L475.8 330.8 L475.9 331.8 L476.1 332.8 L476.2 333.8 L476.4 334.9 L476.6 335.9 L476.7 337.0 L476.9 338.1 L477.0 339.1 L477.2 340.3 L477.3 341.4 L477.5 342.5 L477.6 343.4 L477.8 344.3 L477.9 345.3 L478.0 346.2 L478.1 347.2 L478.2 348.1 L478.4 349.1 L478.5 350.1 L478.6 351.1 L478.8 352.1 L478.9 353.1 L479.0 354.1 L479.1 355.2 L479.2 356.2 L479.4 357.2 L479.5 358.3 L479.6 359.3 L479.8 360.4 L479.9 361.4 L480.0 362.5 L480.1 363.5 L480.2 364.5 L480.3 365.5 L480.5 366.5 L480.6 367.5 L480.7 368.5 L480.8 369.6 L480.9 370.6 L481.0 371.6 L481.1 372.7 L481.2 373.8 L481.4 374.8 L481.5 375.9 L481.6 376.9 L481.7 377.9 L481.8 379.0 L481.9 380.0 L482.0 381.0 L482.2 382.0 L482.3 383.0 L482.4 384.0 L482.5 385.0 L482.6 386.1 L482.7 387.1 L482.9 388.2 L483.0 389.2 L483.1 390.2 L483.2 391.3 L483.4 392.3 L483.5 393.3 L483.6 394.3 L483.7 395.3 L483.8 396.3 L484.0 397.3 L484.1 398.3 L484.2 399.3 L484.3 400.2 L484.5 401.2 L484.6 402.2 L484.7 403.1 L484.9 404.1 L485.0 405.0 L485.2 406.1 L485.3 407.2 L485.5 408.3 L485.7 409.4 L485.8 410.5 L486.0 411.6 L486.2 412.6 L486.4 413.7 L486.5 414.7 L486.7 415.8 L486.9 416.8 L487.1 417.8 L487.3 418.8 L487.4 419.7 L487.6 420.7 L487.8 421.6 L488.0 422.5 L488.3 423.7 L488.5 424.9 L488.8 426.1 L489.0 427.3 L489.3 428.4 L489.6 429.5 L489.8 430.5 L490.1 431.5 L490.4 432.4 L490.7 433.3 L491.0 434.2 L491.2 435.0 L491.8 436.3 L492.3 437.4 L492.9 438.4 L493.4 439.2 L494.0 440.0 L494.5 440.7 L495.0 441.2 L496.0 442.2 L497.0 442.6 L498.0 442.5 L498.8 442.1 L499.6 441.4 L500.4 440.3 L501.2 438.8 L501.6 438.0 L501.9 437.2 L502.2 436.4 L502.6 435.5 L502.9 434.5 L503.3 433.5 L503.6 432.4 L504.0 431.2 L504.3 430.0 L504.7 428.8 L505.0 427.5 L505.2 426.6 L505.4 425.7 L505.7 424.8 L505.9 423.8 L506.1 422.7 L506.3 421.7 L506.6 420.6 L506.8 419.5 L507.0 418.4 L507.2 417.3 L507.5 416.2 L507.7 415.2 L507.9 414.1 L508.1 413.0 L508.3 412.0 L508.5 411.0 L508.8 410.0 L509.0 408.9 L509.2 407.8 L509.4 406.8 L509.6 405.7 L509.8 404.6 L510.1 403.6 L510.3 402.5 L510.5 401.5 L510.7 400.5 L510.9 399.5 L511.1 398.6 L511.3 397.6 L511.5 396.7 L511.7 395.8 L511.9 395.0 L512.2 393.8 L512.5 392.6 L512.8 391.4 L513.1 390.3 L513.5 389.3 L513.8 388.3 L514.1 387.4 L514.4 386.5 L514.7 385.7 L515.0 385.0 L515.8 383.5 L516.5 382.3 L517.2 381.6 L518.0 381.5 L518.6 381.8 L519.3 382.3 L520.0 383.2 L520.6 384.5 L521.2 386.2 L521.4 386.9 L521.6 387.7 L521.8 388.5 L522.0 389.4 L522.1 390.4 L522.3 391.3 L522.5 392.4 L522.6 393.4 L522.8 394.5 L522.9 395.6 L523.1 396.7 L523.3 397.8 L523.4 399.0 L523.6 400.1 L523.8 401.2 L523.9 402.2 L524.0 403.2 L524.2 404.1 L524.3 405.1 L524.5 406.2 L524.6 407.2 L524.8 408.2 L524.9 409.3 L525.0 410.3 L525.2 411.4 L525.3 412.4 L525.5 413.5 L525.6 414.6 L525.7 415.7 L525.9 416.8 L526.0 417.8 L526.1 418.9 L526.2 420.0 L526.4 421.0 L526.5 422.0 L526.6 422.9 L526.6 423.9 L526.7 424.9 L526.8 425.9 L526.9 427.0 L527.0 428.0 L527.1 429.0 L527.2 430.0 L527.2 431.0 L527.3 432.0 L527.4 433.0 L527.5 434.1 L527.6 435.1 L527.6 436.1 L527.7 437.1 L527.8 438.0 L527.9 439.0 L528.0 440.0 L528.1 441.1 L528.2 442.2 L528.3 443.3 L528.4 444.3 L528.5 445.4 L528.6 446.5 L528.7 447.6 L528.8 448.7 L529.0 449.8 L529.1 450.8 L529.2 451.9 L529.3 452.9 L529.4 453.9 L529.5 454.9 L529.6 455.9 L529.8 456.9 L529.9 457.8 L530.0 458.8 L530.2 460.0 L530.4 461.2 L530.5 462.4 L530.7 463.6 L530.9 464.8 L531.1 465.9 L531.3 467.0 L531.5 468.1 L531.7 469.1 L531.9 470.0 L532.1 470.9 L532.3 471.7 L532.5 472.5 L533.1 474.2 L533.7 475.6 L534.3 476.6 L535.0 477.3 L535.6 477.5 L536.2 477.3 L536.9 476.8 L537.5 475.8 L538.2 474.4 L538.8 472.5 L538.9 471.8 L539.1 471.0 L539.3 470.1 L539.4 469.1 L539.6 468.1 L539.8 467.1 L539.9 466.0 L540.1 464.8 L540.2 463.7 L540.4 462.6 L540.5 461.4 L540.7 460.3 L540.8 459.2 L541.0 458.2 L541.1 457.2 L541.2 456.2 L541.4 455.1 L541.6 454.0 L541.7 453.0 L541.9 452.0 L542.1 451.0 L542.2 450.1 L542.3 449.1 L542.5 448.1 L542.6 447.1 L542.7 446.1 L542.9 445.0 L543.0 443.8 L543.1 442.9 L543.2 441.9 L543.3 441.0 L543.3 440.0 L543.4 439.0 L543.5 438.0 L543.6 437.0 L543.7 435.9 L543.7 434.9 L543.8 433.8 L543.9 432.7 L544.0 431.6 L544.0 430.6 L544.1 429.5 L544.2 428.4 L544.3 427.3 L544.4 426.2 L544.5 425.2 L544.6 424.2 L544.7 423.2 L544.8 422.2 L544.9 421.1 L545.0 420.1 L545.1 419.0 L545.2 418.0 L545.3 417.0 L545.4 415.9 L545.5 414.8 L545.6 413.8 L545.7 412.7 L545.8 411.7 L545.9 410.6 L546.0 409.6 L546.1 408.5 L546.2 407.5 L546.4 406.5 L546.5 405.4 L546.6 404.3 L546.7 403.3 L546.9 402.2 L547.0 401.1 L547.1 400.0 L547.2 399.0 L547.4 397.9 L547.5 396.8 L547.7 395.8 L547.8 394.7 L547.9 393.7 L548.1 392.7 L548.3 391.7 L548.4 390.7 L548.6 389.7 L548.8 388.8 L549.0 387.6 L549.2 386.5 L549.4 385.3 L549.7 384.2 L550.0 383.0 L550.2 381.9 L550.5 380.8 L550.8 379.7 L551.0 378.7 L551.3 377.7 L551.6 376.8 L551.8 375.9 L552.1 375.1 L552.3 374.4 L552.5 373.8 L553.4 371.8 L554.2 371.2 L555.0 371.2 L555.6 371.5 L556.2 372.2 L556.8 373.3 L557.5 375.0 L557.7 375.7 L557.9 376.4 L558.2 377.2 L558.4 378.0 L558.6 378.9 L558.9 379.9 L559.1 380.9 L559.4 381.9 L559.6 383.0 L559.9 384.2 L560.1 385.4 L560.4 386.7 L560.6 388.0 L560.7 388.8 L560.9 389.7 L561.0 390.6 L561.2 391.6 L561.3 392.6 L561.5 393.6 L561.6 394.7 L561.7 395.7 L561.9 396.8 L562.0 397.9 L562.2 399.0 L562.3 400.1 L562.5 401.2 L562.6 402.3 L562.7 403.4 L562.9 404.4 L563.0 405.5 L563.2 406.5 L563.3 407.4 L563.5 408.3 L563.6 409.2 L563.8 410.0 L564.0 411.4 L564.3 412.7 L564.5 413.9 L564.8 415.1 L565.1 416.1 L565.3 417.2 L565.6 418.1 L565.9 419.1 L566.1 419.9 L566.4 420.8 L566.6 421.7 L566.9 422.5 L567.3 423.7 L567.7 424.8 L568.1 425.9 L568.5 426.8 L568.8 427.7 L569.2 428.6 L569.6 429.3 L570.0 430.0 L570.7 431.1 L571.4 431.9 L572.1 432.5 L573.0 433.0 L574.0 433.3 L575.1 433.5 L576.3 433.5 L577.5 433.5 L578.5 433.5 L579.5 433.4 L580.6 433.3 L581.6 433.2 L582.5 433.0 L583.5 432.7 L584.5 432.4 L585.4 431.9 L586.2 431.2 L586.9 430.6 L587.6 429.8 L588.2 428.9 L588.8 427.7 L589.4 426.2 L589.7 425.5 L590.0 424.6 L590.2 423.7 L590.5 422.7 L590.8 421.7 L591.1 420.6 L591.4 419.5 L591.7 418.4 L591.9 417.3 L592.2 416.1 L592.5 415.0 L592.7 414.1 L592.9 413.1 L593.2 412.2 L593.4 411.2 L593.6 410.1 L593.8 409.1 L594.0 408.1 L594.3 407.0 L594.5 406.0 L594.7 405.0 L594.9 404.0 L595.2 403.1 L595.4 402.1 L595.6 401.2 L595.9 400.1 L596.2 398.9 L596.5 397.8 L596.9 396.8 L597.2 395.7 L597.5 394.7 L597.8 393.8 L598.1 392.8 L598.4 391.9 L598.8 391.0 L599.1 389.9 L599.5 388.8 L599.9 387.8 L600.3 386.8 L600.7 385.9 L601.1 385.0 L601.5 384.2 L601.9 383.5 L602.8 382.2 L603.7 381.2 L604.7 380.5 L605.6 380.2 L606.6 380.5 L607.5 381.1 L608.5 382.0 L609.4 383.0 L610.1 383.8 L610.7 384.8 L611.3 385.8 L611.9 386.8 L612.5 387.5 L613.4 388.5 L614.4 389.1 L615.3 389.2 L616.1 388.9 L616.8 388.3 L617.6 387.4 L618.4 386.0 L618.7 385.3 L619.0 384.5 L619.3 383.6 L619.6 382.6 L619.9 381.6 L620.1 380.5 L620.4 379.4 L620.7 378.3 L621.0 377.3 L621.2 376.2 L621.5 375.3 L621.8 374.3 L622.0 373.3 L622.3 372.3 L622.5 371.3 L622.8 370.3 L623.0 369.3 L623.3 368.3 L623.5 367.3 L623.8 366.2 L624.0 365.2 L624.2 364.2 L624.5 363.1 L624.8 362.1 L625.0 361.0 L625.2 360.0 L625.5 359.0 L625.8 358.0 L626.0 357.1 L626.2 356.2 L626.7 354.9 L627.1 353.7 L627.5 352.6 L627.9 351.6 L628.3 350.8 L628.8 350.0 L629.6 348.8 L630.4 348.2 L631.2 348.0 L632.1 348.3 L632.9 349.1 L633.8 350.6 L634.0 351.3 L634.3 352.2 L634.6 353.1 L634.9 354.1 L635.1 355.2 L635.4 356.4 L635.7 357.6 L636.0 358.8 L636.2 360.0 L636.5 360.9 L636.7 361.9 L636.9 362.9 L637.1 363.9 L637.3 365.0 L637.5 366.1 L637.7 367.1 L637.9 368.2 L638.1 369.3 L638.3 370.4 L638.5 371.4 L638.8 372.5 L639.0 373.5 L639.2 374.6 L639.4 375.6 L639.6 376.7 L639.8 377.7 L640.0 378.8 L640.2 379.8 L640.4 380.8 L640.6 381.9 L640.8 382.9 L641.0 384.0 L641.2 385.0 L641.5 386.1 L641.7 387.1 L641.9 388.2 L642.1 389.4 L642.3 390.5 L642.5 391.6 L642.7 392.6 L642.9 393.7 L643.1 394.7 L643.3 395.7 L643.6 396.6 L643.8 397.5 L644.1 398.9 L644.4 400.2 L644.7 401.4 L645.1 402.4 L645.4 403.4 L645.7 404.3 L646.0 405.0 L647.1 406.5 L648.0 407.0" stroke="#4198af" stroke-width="3.35"/>
<path d="M119.6 447.7 L120.6 448.1 L121.6 448.6 L122.6 449.0 L123.6 449.4 L124.6 449.8 L125.6 450.1 L126.6 450.5 L127.6 450.8 L128.6 451.1 L129.6 451.3 L130.6 451.6 L131.6 451.8 L132.6 451.9 L133.6 452.1 L134.6 452.2 L135.6 452.3 L136.6 452.4 L137.6 452.5 L138.6 452.5 L139.6 452.5 L140.6 452.5 L141.6 452.4 L142.6 452.3 L143.6 452.2 L144.6 452.1 L145.6 452.0 L146.6 451.8 L147.6 451.6 L148.6 451.3 L149.6 451.1 L150.6 450.8 L151.6 450.5 L152.6 450.2 L153.6 449.8 L154.6 449.4 L155.6 449.0 L156.6 448.6 L157.6 448.2 L158.6 447.7 L159.6 447.2 L160.6 446.7 L161.6 446.2 L162.6 445.6 L163.6 445.1 L164.6 444.5 L165.6 443.9 L166.6 443.2 L167.6 442.6 L168.6 441.9 L169.6 441.3 L170.6 440.6 L171.6 439.9 L172.6 439.2 L173.6 438.4 L174.6 437.7 L175.6 436.9 L176.6 436.2 L177.6 435.4 L178.6 434.6 L179.6 433.8 L180.6 433.0 L181.6 432.2 L182.6 431.4 L183.6 430.6 L184.6 429.7 L185.6 428.9 L186.6 428.1 L187.6 427.2 L188.6 426.4 L189.6 425.5 L190.6 424.7 L191.6 423.9 L192.6 423.0 L193.6 422.2 L194.6 421.4 L195.6 420.5 L196.6 419.7 L197.6 418.9 L198.6 418.1 L199.6 417.3 L200.6 416.5 L201.6 415.7 L202.6 414.9 L203.6 414.1 L204.6 413.4 L205.6 412.6 L206.6 411.9 L207.6 411.2 L208.6 410.5 L209.6 409.8 L210.6 409.1 L211.6 408.5 L212.6 407.8 L213.6 407.2 L214.6 406.6 L215.6 406.0 L216.6 405.4 L217.6 404.9 L218.6 404.3 L219.6 403.8 L220.6 403.3 L221.6 402.9 L222.6 402.4 L223.6 402.0 L224.6 401.6 L225.6 401.2 L226.6 400.9 L227.6 400.5 L228.6 400.2 L229.6 399.9 L230.6 399.7 L231.6 399.4 L232.6 399.2 L233.6 399.1 L234.6 398.9 L235.6 398.8 L236.6 398.7 L237.6 398.6 L238.6 398.5 L239.6 398.5 L240.6 398.5 L241.6 398.5 L242.6 398.6 L243.6 398.7 L244.6 398.8 L245.6 398.9 L246.6 399.0 L247.6 399.2 L248.6 399.4 L249.6 399.7 L250.6 399.9 L251.6 400.2 L252.6 400.5 L253.6 400.8 L254.6 401.2 L255.6 401.6 L256.6 402.0 L257.6 402.4 L258.6 402.8 L259.6 403.3 L260.6 403.8 L261.6 404.3 L262.6 404.8 L263.6 405.4 L264.6 405.9 L265.6 406.5 L266.6 407.1 L267.6 407.8 L268.6 408.4 L269.6 409.1 L270.6 409.7 L271.6 410.4 L272.6 411.1 L273.6 411.8 L274.6 412.6 L275.6 413.3 L276.6 414.1 L277.6 414.8 L278.6 415.6 L279.6 416.4 L280.6 417.2 L281.6 418.0 L282.6 418.8 L283.6 419.6 L284.6 420.4 L285.6 421.3 L286.6 422.1 L287.6 422.9 L288.6 423.8 L289.6 424.6 L290.6 425.5 L291.6 426.3 L292.6 427.1 L293.6 428.0 L294.6 428.8 L295.6 429.6 L296.6 430.5 L297.6 431.3 L298.6 432.1 L299.6 432.9 L300.6 433.7 L301.6 434.5 L302.6 435.3 L303.6 436.1 L304.6 436.9 L305.6 437.6 L306.6 438.4 L307.6 439.1 L308.6 439.8 L309.6 440.5 L310.6 441.2 L311.6 441.9 L312.6 442.5 L313.6 443.2 L314.6 443.8 L315.6 444.4 L316.6 445.0 L317.6 445.6 L318.6 446.1 L319.6 446.7 L320.6 447.2 L321.6 447.7 L322.6 448.1 L323.6 448.6 L324.6 449.0 L325.6 449.4 L326.6 449.8 L327.6 450.1 L328.6 450.5 L329.6 450.8 L330.6 451.1 L331.6 451.3 L332.6 451.6 L333.6 451.8 L334.6 451.9 L335.6 452.1 L336.6 452.2 L337.6 452.3 L338.6 452.4 L339.6 452.5 L340.6 452.5 L341.6 452.5 L342.6 452.5 L343.6 452.4 L344.6 452.3 L345.6 452.2 L346.6 452.1 L347.6 452.0 L348.6 451.8 L349.6 451.6 L350.6 451.3 L351.6 451.1 L352.6 450.8 L353.6 450.5 L354.6 450.2 L355.6 449.8 L356.6 449.4 L357.6 449.0 L358.6 448.6 L359.6 448.2 L360.6 447.7 L361.6 447.2 L362.6 446.7 L363.6 446.2 L364.6 445.6 L365.6 445.1 L366.6 444.5 L367.6 443.9 L368.6 443.2 L369.6 442.6 L370.6 441.9 L371.6 441.3 L372.6 440.6 L373.6 439.9 L374.6 439.2 L375.6 438.4 L376.6 437.7 L377.6 436.9 L378.6 436.2 L379.6 435.4 L380.6 434.6 L381.6 433.8 L382.6 433.0 L383.6 432.2 L384.6 431.4 L385.6 430.6 L386.6 429.7 L387.6 428.9 L388.6 428.1 L389.6 427.2 L390.6 426.4 L391.6 425.5 L392.6 424.7 L393.6 423.9 L394.6 423.0 L395.6 422.2 L396.6 421.4 L397.6 420.5 L398.6 419.7 L399.6 418.9 L400.6 418.1 L401.6 417.3 L402.6 416.5 L403.6 415.7 L404.6 414.9 L405.6 414.1 L406.6 413.4 L407.6 412.6 L408.6 411.9 L409.6 411.2 L410.6 410.5 L411.6 409.8 L412.6 409.1 L413.6 408.5 L414.6 407.8 L415.6 407.2 L416.6 406.6 L417.6 406.0 L418.6 405.4 L419.6 404.9 L420.6 404.3 L421.6 403.8 L422.6 403.3 L423.6 402.9 L424.6 402.4 L425.6 402.0 L426.6 401.6 L427.6 401.2 L428.6 400.9 L429.6 400.5 L430.6 400.2 L431.6 399.9 L432.6 399.7 L433.6 399.4 L434.6 399.2 L435.6 399.1 L436.6 398.9 L437.6 398.8 L438.6 398.7 L439.6 398.6 L440.6 398.5 L441.6 398.5 L442.6 398.5 L443.6 398.5 L444.6 398.6 L445.6 398.7 L446.6 398.8 L447.6 398.9 L448.6 399.0 L449.6 399.2 L450.6 399.4 L451.6 399.7 L452.6 399.9 L453.6 400.2 L454.6 400.5 L455.6 400.8 L456.6 401.2 L457.6 401.6 L458.6 402.0 L459.6 402.4 L460.6 402.8 L461.6 403.3 L462.6 403.8 L463.6 404.3 L464.6 404.8 L465.6 405.4 L466.6 405.9 L467.6 406.5 L468.6 407.1 L469.6 407.8 L470.6 408.4 L471.6 409.1 L472.6 409.7 L473.6 410.4 L474.6 411.1 L475.6 411.8 L476.6 412.6 L477.6 413.3 L478.6 414.1 L479.6 414.8 L480.6 415.6 L481.6 416.4 L482.6 417.2 L483.6 418.0 L484.6 418.8 L485.6 419.6 L486.6 420.4 L487.6 421.3 L488.6 422.1 L489.6 422.9 L490.6 423.8 L491.6 424.6 L492.6 425.5 L493.6 426.3 L494.6 427.1 L495.6 428.0 L496.6 428.8 L497.6 429.6 L498.6 430.5 L499.6 431.3 L500.6 432.1 L501.6 432.9 L502.6 433.7 L503.6 434.5 L504.6 435.3 L505.6 436.1 L506.6 436.9 L507.6 437.6 L508.6 438.4 L509.6 439.1 L510.6 439.8 L511.6 440.5 L512.6 441.2 L513.6 441.9 L514.6 442.5 L515.6 443.2 L516.6 443.8 L517.6 444.4 L518.6 445.0 L519.6 445.6 L520.6 446.1 L521.6 446.7 L522.6 447.2 L523.6 447.7 L524.6 448.1 L525.6 448.6 L526.6 449.0 L527.6 449.4 L528.6 449.8 L529.6 450.1 L530.6 450.5 L531.6 450.8 L532.6 451.1 L533.6 451.3 L534.6 451.6 L535.6 451.8 L536.6 451.9 L537.6 452.1 L538.6 452.2 L539.6 452.3 L540.6 452.4 L541.6 452.5 L542.6 452.5 L543.6 452.5 L544.6 452.5 L545.6 452.4 L546.6 452.3 L547.6 452.2 L548.6 452.1 L549.6 452.0 L550.6 451.8 L551.6 451.6 L552.6 451.3 L553.6 451.1 L554.6 450.8 L555.6 450.5 L556.6 450.2 L557.6 449.8 L558.6 449.4 L559.6 449.0 L560.6 448.6 L561.6 448.2 L562.6 447.7 L563.6 447.2 L564.6 446.7 L565.6 446.2 L566.6 445.6 L567.6 445.1 L568.6 444.5 L569.6 443.9 L570.6 443.2 L571.6 442.6 L572.6 441.9 L573.6 441.3 L574.6 440.6 L575.6 439.9 L576.6 439.2 L577.6 438.4 L578.6 437.7 L579.6 436.9 L580.6 436.2 L581.6 435.4 L582.6 434.6 L583.6 433.8 L584.6 433.0 L585.6 432.2 L586.6 431.4 L587.6 430.6 L588.6 429.7 L589.6 428.9 L590.6 428.1 L591.6 427.2 L592.6 426.4 L593.6 425.5 L594.6 424.7 L595.6 423.9 L596.6 423.0 L597.6 422.2 L598.6 421.4 L599.6 420.5 L600.6 419.7 L601.6 418.9 L602.6 418.1 L603.6 417.3 L604.6 416.5 L605.6 415.7 L606.6 414.9 L607.6 414.1 L608.6 413.4 L609.6 412.6 L610.6 411.9 L611.6 411.2 L612.6 410.5 L613.6 409.8 L614.6 409.1 L615.6 408.5 L616.6 407.8 L617.6 407.2 L618.6 406.6 L619.6 406.0 L620.6 405.4 L621.6 404.9 L622.6 404.3 L623.6 403.8 L624.6 403.3 L625.6 402.9 L626.6 402.4 L627.6 402.0 L628.6 401.6 L629.6 401.2 L630.6 400.9 L631.6 400.5 L632.6 400.2 L633.6 399.9 L634.6 399.7 L635.6 399.4 L636.6 399.2 L636.9 399.2" stroke="#db843d" stroke-width="3.35"/>
<path d="M119.6 440.7 L120.6 439.8 L121.6 438.7 L122.6 437.3 L123.6 435.8 L124.6 434.2 L125.6 432.4 L126.6 430.6 L127.6 428.6 L128.6 426.6 L129.6 424.6 L130.6 422.6 L131.6 420.7 L132.6 418.8 L133.6 417.0 L134.6 415.3 L135.6 413.8 L136.6 412.4 L137.6 411.2 L138.6 410.2 L139.6 409.4 L140.6 408.8 L141.6 408.4 L142.6 408.3 L143.6 408.4 L144.6 408.8 L145.6 409.4 L146.6 410.2 L147.6 411.2 L148.6 412.4 L149.6 413.8 L150.6 415.3 L151.6 417.0 L152.6 418.8 L153.6 420.7 L154.6 422.6 L155.6 424.6 L156.6 426.6 L157.6 428.6 L158.6 430.6 L159.6 432.4 L160.6 434.2 L161.6 435.8 L162.6 437.3 L163.6 438.7 L164.6 439.8 L165.6 440.7 L166.6 441.5 L167.6 442.0 L168.6 442.2 L169.6 442.3 L170.6 442.1 L171.6 441.7 L172.6 441.0 L173.6 440.1 L174.6 439.1 L175.6 437.8 L176.6 436.3 L177.6 434.7 L178.6 433.0 L179.6 431.2 L180.6 429.3 L181.6 427.3 L182.6 425.3 L183.6 423.3 L184.6 421.3 L185.6 419.4 L186.6 417.6 L187.6 415.9 L188.6 414.3 L189.6 412.8 L190.6 411.5 L191.6 410.5 L192.6 409.6 L193.6 408.9 L194.6 408.5 L195.6 408.3 L196.6 408.4 L197.6 408.6 L198.6 409.1 L199.6 409.9 L200.6 410.8 L201.6 412.0 L202.6 413.3 L203.6 414.8 L204.6 416.4 L205.6 418.2 L206.6 420.1 L207.6 422.0 L208.6 424.0 L209.6 426.0 L210.6 428.0 L211.6 429.9 L212.6 431.8 L213.6 433.6 L214.6 435.3 L215.6 436.8 L216.6 438.2 L217.6 439.4 L218.6 440.5 L219.6 441.3 L220.6 441.8 L221.6 442.2 L222.6 442.3 L223.6 442.2 L224.6 441.8 L225.6 441.2 L226.6 440.4 L227.6 439.4 L228.6 438.2 L229.6 436.8 L230.6 435.3 L231.6 433.6 L232.6 431.8 L233.6 429.9 L234.6 427.9 L235.6 426.0 L236.6 424.0 L237.6 422.0 L238.6 420.0 L239.6 418.2 L240.6 416.4 L241.6 414.8 L242.6 413.3 L243.6 411.9 L244.6 410.8 L245.6 409.9 L246.6 409.1 L247.6 408.6 L248.6 408.4 L249.6 408.3 L250.6 408.5 L251.6 408.9 L252.6 409.6 L253.6 410.5 L254.6 411.6 L255.6 412.8 L256.6 414.3 L257.6 415.9 L258.6 417.6 L259.6 419.4 L260.6 421.3 L261.6 423.3 L262.6 425.3 L263.6 427.3 L264.6 429.3 L265.6 431.2 L266.6 433.0 L267.6 434.8 L268.6 436.4 L269.6 437.8 L270.6 439.1 L271.6 440.1 L272.6 441.0 L273.6 441.7 L274.6 442.1 L275.6 442.3 L276.6 442.2 L277.6 442.0 L278.6 441.5 L279.6 440.7 L280.6 439.8 L281.6 438.6 L282.6 437.3 L283.6 435.8 L284.6 434.2 L285.6 432.4 L286.6 430.5 L287.6 428.6 L288.6 426.6 L289.6 424.6 L290.6 422.6 L291.6 420.7 L292.6 418.8 L293.6 417.0 L294.6 415.3 L295.6 413.7 L296.6 412.4 L297.6 411.2 L298.6 410.1 L299.6 409.3 L300.6 408.8 L301.6 408.4 L302.6 408.3 L303.6 408.4 L304.6 408.8 L305.6 409.4 L306.6 410.2 L307.6 411.2 L308.6 412.4 L309.6 413.8 L310.6 415.3 L311.6 417.0 L312.6 418.8 L313.6 420.7 L314.6 422.7 L315.6 424.7 L316.6 426.7 L317.6 428.6 L318.6 430.6 L319.6 432.4 L320.6 434.2 L321.6 435.8 L322.6 437.3 L323.6 438.7 L324.6 439.8 L325.6 440.7 L326.6 441.5 L327.6 442.0 L328.6 442.2 L329.6 442.3 L330.6 442.1 L331.6 441.7 L332.6 441.0 L333.6 440.1 L334.6 439.0 L335.6 437.8 L336.6 436.3 L337.6 434.7 L338.6 433.0 L339.6 431.2 L340.6 429.2 L341.6 427.3 L342.6 425.3 L343.6 423.3 L344.6 421.3 L345.6 419.4 L346.6 417.6 L347.6 415.8 L348.6 414.2 L349.6 412.8 L350.6 411.5 L351.6 410.5 L352.6 409.6 L353.6 408.9 L354.6 408.5 L355.6 408.3 L356.6 408.4 L357.6 408.6 L358.6 409.1 L359.6 409.9 L360.6 410.8 L361.6 412.0 L362.6 413.3 L363.6 414.8 L364.6 416.4 L365.6 418.2 L366.6 420.1 L367.6 422.0 L368.6 424.0 L369.6 426.0 L370.6 428.0 L371.6 429.9 L372.6 431.8 L373.6 433.6 L374.6 435.3 L375.6 436.9 L376.6 438.2 L377.6 439.5 L378.6 440.5 L379.6 441.3 L380.6 441.8 L381.6 442.2 L382.6 442.3 L383.6 442.2 L384.6 441.8 L385.6 441.2 L386.6 440.4 L387.6 439.4 L388.6 438.2 L389.6 436.8 L390.6 435.3 L391.6 433.6 L392.6 431.8 L393.6 429.9 L394.6 427.9 L395.6 425.9 L396.6 423.9 L397.6 422.0 L398.6 420.0 L399.6 418.2 L400.6 416.4 L401.6 414.7 L402.6 413.3 L403.6 411.9 L404.6 410.8 L405.6 409.8 L406.6 409.1 L407.6 408.6 L408.6 408.3 L409.6 408.3 L410.6 408.5 L411.6 408.9 L412.6 409.6 L413.6 410.5 L414.6 411.6 L415.6 412.8 L416.6 414.3 L417.6 415.9 L418.6 417.6 L419.6 419.4 L420.6 421.4 L421.6 423.3 L422.6 425.3 L423.6 427.3 L424.6 429.3 L425.6 431.2 L426.6 433.0 L427.6 434.8 L428.6 436.4 L429.6 437.8 L430.6 439.1 L431.6 440.2 L432.6 441.0 L433.6 441.7 L434.6 442.1 L435.6 442.3 L436.6 442.2 L437.6 442.0 L438.6 441.5 L439.6 440.7 L440.6 439.8 L441.6 438.6 L442.6 437.3 L443.6 435.8 L444.6 434.2 L445.6 432.4 L446.6 430.5 L447.6 428.6 L448.6 426.6 L449.6 424.6 L450.6 422.6 L451.6 420.6 L452.6 418.8 L453.6 417.0 L454.6 415.3 L455.6 413.7 L456.6 412.3 L457.6 411.1 L458.6 410.1 L459.6 409.3 L460.6 408.8 L461.6 408.4 L462.6 408.3 L463.6 408.4 L464.6 408.8 L465.6 409.4 L466.6 410.2 L467.6 411.2 L468.6 412.4 L469.6 413.8 L470.6 415.3 L471.6 417.0 L472.6 418.8 L473.6 420.7 L474.6 422.7 L475.6 424.7 L476.6 426.7 L477.6 428.7 L478.6 430.6 L479.6 432.5 L480.6 434.2 L481.6 435.9 L482.6 437.4 L483.6 438.7 L484.6 439.8 L485.6 440.8 L486.6 441.5 L487.6 442.0 L488.6 442.3 L489.6 442.3 L490.6 442.1 L491.6 441.6 L492.6 441.0 L493.6 440.1 L494.6 439.0 L495.6 437.8 L496.6 436.3 L497.6 434.7 L498.6 433.0 L499.6 431.1 L500.6 429.2 L501.6 427.3 L502.6 425.3 L503.6 423.3 L504.6 421.3 L505.6 419.4 L506.6 417.5 L507.6 415.8 L508.6 414.2 L509.6 412.8 L510.6 411.5 L511.6 410.4 L512.6 409.6 L513.6 408.9 L514.6 408.5 L515.6 408.3 L516.6 408.4 L517.6 408.6 L518.6 409.1 L519.6 409.9 L520.6 410.8 L521.6 412.0 L522.6 413.3 L523.6 414.8 L524.6 416.5 L525.6 418.2 L526.6 420.1 L527.6 422.0 L528.6 424.0 L529.6 426.0 L530.6 428.0 L531.6 430.0 L532.6 431.9 L533.6 433.6 L534.6 435.3 L535.6 436.9 L536.6 438.3 L537.6 439.5 L538.6 440.5 L539.6 441.3 L540.6 441.8 L541.6 442.2 L542.6 442.3 L543.6 442.2 L544.6 441.8 L545.6 441.2 L546.6 440.4 L547.6 439.4 L548.6 438.2 L549.6 436.8 L550.6 435.3 L551.6 433.6 L552.6 431.8 L553.6 429.9 L554.6 427.9 L555.6 425.9 L556.6 423.9 L557.6 421.9 L558.6 420.0 L559.6 418.1 L560.6 416.4 L561.6 414.7 L562.6 413.2 L563.6 411.9 L564.6 410.8 L565.6 409.8 L566.6 409.1 L567.6 408.6 L568.6 408.3 L569.6 408.3 L570.6 408.5 L571.6 409.0 L572.6 409.6 L573.6 410.5 L574.6 411.6 L575.6 412.9 L576.6 414.3 L577.6 415.9 L578.6 417.6 L579.6 419.5 L580.6 421.4 L581.6 423.4 L582.6 425.4 L583.6 427.4 L584.6 429.3 L585.6 431.2 L586.6 433.1 L587.6 434.8 L588.6 436.4 L589.6 437.8 L590.6 439.1 L591.6 440.2 L592.6 441.0 L593.6 441.7 L594.6 442.1 L595.6 442.3 L596.6 442.2 L597.6 442.0 L598.6 441.5 L599.6 440.7 L600.6 439.8 L601.6 438.6 L602.6 437.3 L603.6 435.8 L604.6 434.1 L605.6 432.4 L606.6 430.5 L607.6 428.6 L608.6 426.6 L609.6 424.6 L610.6 422.6 L611.6 420.6 L612.6 418.7 L613.6 416.9 L614.6 415.3 L615.6 413.7 L616.6 412.3 L617.6 411.1 L618.6 410.1 L619.6 409.3 L620.6 408.8 L621.6 408.4 L622.6 408.3 L623.6 408.4 L624.6 408.8 L625.6 409.4 L626.6 410.2 L627.6 411.2 L628.6 412.4 L629.6 413.8 L630.6 415.4 L631.6 417.0 L632.6 418.9 L633.6 420.7 L634.6 422.7 L635.6 424.7 L636.6 426.7 L636.9 427.3" stroke="#93a9cf" stroke-width="3.35"/>
<path d="M119.6 439.4 L120.6 440.0 L121.6 440.3 L122.6 440.3 L123.6 440.0 L124.6 439.4 L125.6 438.6 L126.6 437.6 L127.6 436.3 L128.6 434.8 L129.6 433.2 L130.6 431.3 L131.6 429.4 L132.6 427.4 L133.6 425.4 L134.6 423.4 L135.6 421.4 L136.6 419.4 L137.6 417.6 L138.6 415.9 L139.6 414.4 L140.6 413.1 L141.6 412.1 L142.6 411.2 L143.6 410.7 L144.6 410.3 L145.6 410.3 L146.6 410.6 L147.6 411.1 L148.6 411.9 L149.6 412.9 L150.6 414.2 L151.6 415.6 L152.6 417.3 L153.6 419.1 L154.6 421.0 L155.6 423.0 L156.6 425.0 L157.6 427.0 L158.6 429.0 L159.6 431.0 L160.6 432.8 L161.6 434.5 L162.6 436.0 L163.6 437.3 L164.6 438.4 L165.6 439.3 L166.6 439.9 L167.6 440.2 L168.6 440.3 L169.6 440.1 L170.6 439.6 L171.6 438.8 L172.6 437.8 L173.6 436.6 L174.6 435.1 L175.6 433.5 L176.6 431.7 L177.6 429.8 L178.6 427.8 L179.6 425.8 L180.6 423.8 L181.6 421.8 L182.6 419.8 L183.6 418.0 L184.6 416.3 L185.6 414.7 L186.6 413.4 L187.6 412.3 L188.6 411.4 L189.6 410.7 L190.6 410.4 L191.6 410.3 L192.6 410.5 L193.6 411.0 L194.6 411.7 L195.6 412.7 L196.6 413.9 L197.6 415.3 L198.6 416.9 L199.6 418.7 L200.6 420.6 L201.6 422.6 L202.6 424.6 L203.6 426.6 L204.6 428.6 L205.6 430.6 L206.6 432.4 L207.6 434.2 L208.6 435.7 L209.6 437.1 L210.6 438.2 L211.6 439.1 L212.6 439.8 L213.6 440.2 L214.6 440.3 L215.6 440.1 L216.6 439.7 L217.6 439.0 L218.6 438.0 L219.6 436.8 L220.6 435.4 L221.6 433.8 L222.6 432.1 L223.6 430.2 L224.6 428.2 L225.6 426.2 L226.6 424.2 L227.6 422.2 L228.6 420.2 L229.6 418.3 L230.6 416.6 L231.6 415.0 L232.6 413.6 L233.6 412.5 L234.6 411.5 L235.6 410.9 L236.6 410.4 L237.6 410.3 L238.6 410.4 L239.6 410.9 L240.6 411.5 L241.6 412.5 L242.6 413.6 L243.6 415.0 L244.6 416.6 L245.6 418.3 L246.6 420.2 L247.6 422.2 L248.6 424.2 L249.6 426.2 L250.6 428.2 L251.6 430.2 L252.6 432.1 L253.6 433.8 L254.6 435.4 L255.6 436.8 L256.6 438.0 L257.6 439.0 L258.6 439.7 L259.6 440.1 L260.6 440.3 L261.6 440.2 L262.6 439.8 L263.6 439.1 L264.6 438.2 L265.6 437.1 L266.6 435.7 L267.6 434.2 L268.6 432.4 L269.6 430.6 L270.6 428.6 L271.6 426.6 L272.6 424.6 L273.6 422.6 L274.6 420.6 L275.6 418.7 L276.6 416.9 L277.6 415.3 L278.6 413.9 L279.6 412.7 L280.6 411.7 L281.6 411.0 L282.6 410.5 L283.6 410.3 L284.6 410.4 L285.6 410.7 L286.6 411.4 L287.6 412.3 L288.6 413.4 L289.6 414.7 L290.6 416.3 L291.6 418.0 L292.6 419.8 L293.6 421.8 L294.6 423.8 L295.6 425.8 L296.6 427.8 L297.6 429.8 L298.6 431.7 L299.6 433.5 L300.6 435.1 L301.6 436.6 L302.6 437.8 L303.6 438.8 L304.6 439.6 L305.6 440.1 L306.6 440.3 L307.6 440.2 L308.6 439.9 L309.6 439.3 L310.6 438.4 L311.6 437.3 L312.6 436.0 L313.6 434.5 L314.6 432.8 L315.6 431.0 L316.6 429.0 L317.6 427.0 L318.6 425.0 L319.6 423.0 L320.6 421.0 L321.6 419.1 L322.6 417.3 L323.6 415.6 L324.6 414.2 L325.6 412.9 L326.6 411.9 L327.6 411.1 L328.6 410.6 L329.6 410.3 L330.6 410.3 L331.6 410.7 L332.6 411.2 L333.6 412.1 L334.6 413.1 L335.6 414.4 L336.6 415.9 L337.6 417.6 L338.6 419.4 L339.6 421.4 L340.6 423.4 L341.6 425.4 L342.6 427.4 L343.6 429.4 L344.6 431.3 L345.6 433.2 L346.6 434.8 L347.6 436.3 L348.6 437.6 L349.6 438.6 L350.6 439.4 L351.6 440.0 L352.6 440.3 L353.6 440.3 L354.6 440.0 L355.6 439.4 L356.6 438.6 L357.6 437.6 L358.6 436.3 L359.6 434.8 L360.6 433.2 L361.6 431.3 L362.6 429.4 L363.6 427.4 L364.6 425.4 L365.6 423.4 L366.6 421.4 L367.6 419.4 L368.6 417.6 L369.6 415.9 L370.6 414.4 L371.6 413.1 L372.6 412.1 L373.6 411.2 L374.6 410.7 L375.6 410.3 L376.6 410.3 L377.6 410.6 L378.6 411.1 L379.6 411.9 L380.6 412.9 L381.6 414.2 L382.6 415.6 L383.6 417.3 L384.6 419.1 L385.6 421.0 L386.6 423.0 L387.6 425.0 L388.6 427.0 L389.6 429.0 L390.6 431.0 L391.6 432.8 L392.6 434.5 L393.6 436.0 L394.6 437.3 L395.6 438.4 L396.6 439.3 L397.6 439.9 L398.6 440.2 L399.6 440.3 L400.6 440.1 L401.6 439.6 L402.6 438.8 L403.6 437.8 L404.6 436.6 L405.6 435.1 L406.6 433.5 L407.6 431.7 L408.6 429.8 L409.6 427.8 L410.6 425.8 L411.6 423.8 L412.6 421.8 L413.6 419.8 L414.6 418.0 L415.6 416.3 L416.6 414.7 L417.6 413.4 L418.6 412.3 L419.6 411.4 L420.6 410.7 L421.6 410.4 L422.6 410.3 L423.6 410.5 L424.6 411.0 L425.6 411.7 L426.6 412.7 L427.6 413.9 L428.6 415.3 L429.6 416.9 L430.6 418.7 L431.6 420.6 L432.6 422.6 L433.6 424.6 L434.6 426.6 L435.6 428.6 L436.6 430.6 L437.6 432.4 L438.6 434.2 L439.6 435.7 L440.6 437.1 L441.6 438.2 L442.6 439.1 L443.6 439.8 L444.6 440.2 L445.6 440.3 L446.6 440.1 L447.6 439.7 L448.6 439.0 L449.6 438.0 L450.6 436.8 L451.6 435.4 L452.6 433.8 L453.6 432.1 L454.6 430.2 L455.6 428.2 L456.6 426.2 L457.6 424.2 L458.6 422.2 L459.6 420.2 L460.6 418.3 L461.6 416.6 L462.6 415.0 L463.6 413.6 L464.6 412.5 L465.6 411.5 L466.6 410.9 L467.6 410.4 L468.6 410.3 L469.6 410.4 L470.6 410.9 L471.6 411.5 L472.6 412.5 L473.6 413.6 L474.6 415.0 L475.6 416.6 L476.6 418.3 L477.6 420.2 L478.6 422.2 L479.6 424.2 L480.6 426.2 L481.6 428.2 L482.6 430.2 L483.6 432.1 L484.6 433.8 L485.6 435.4 L486.6 436.8 L487.6 438.0 L488.6 439.0 L489.6 439.7 L490.6 440.1 L491.6 440.3 L492.6 440.2 L493.6 439.8 L494.6 439.1 L495.6 438.2 L496.6 437.1 L497.6 435.7 L498.6 434.2 L499.6 432.4 L500.6 430.6 L501.6 428.6 L502.6 426.6 L503.6 424.6 L504.6 422.6 L505.6 420.6 L506.6 418.7 L507.6 416.9 L508.6 415.3 L509.6 413.9 L510.6 412.7 L511.6 411.7 L512.6 411.0 L513.6 410.5 L514.6 410.3 L515.6 410.4 L516.6 410.7 L517.6 411.4 L518.6 412.3 L519.6 413.4 L520.6 414.7 L521.6 416.3 L522.6 418.0 L523.6 419.8 L524.6 421.8 L525.6 423.8 L526.6 425.8 L527.6 427.8 L528.6 429.8 L529.6 431.7 L530.6 433.5 L531.6 435.1 L532.6 436.6 L533.6 437.8 L534.6 438.8 L535.6 439.6 L536.6 440.1 L537.6 440.3 L538.6 440.2 L539.6 439.9 L540.6 439.3 L541.6 438.4 L542.6 437.3 L543.6 436.0 L544.6 434.5 L545.6 432.8 L546.6 431.0 L547.6 429.0 L548.6 427.0 L549.6 425.0 L550.6 423.0 L551.6 421.0 L552.6 419.1 L553.6 417.3 L554.6 415.6 L555.6 414.2 L556.6 412.9 L557.6 411.9 L558.6 411.1 L559.6 410.6 L560.6 410.3 L561.6 410.3 L562.6 410.7 L563.6 411.2 L564.6 412.1 L565.6 413.1 L566.6 414.4 L567.6 415.9 L568.6 417.6 L569.6 419.4 L570.6 421.4 L571.6 423.4 L572.6 425.4 L573.6 427.4 L574.6 429.4 L575.6 431.3 L576.6 433.2 L577.6 434.8 L578.6 436.3 L579.6 437.6 L580.6 438.6 L581.6 439.4 L582.6 440.0 L583.6 440.3 L584.6 440.3 L585.6 440.0 L586.6 439.4 L587.6 438.6 L588.6 437.6 L589.6 436.3 L590.6 434.8 L591.6 433.2 L592.6 431.3 L593.6 429.4 L594.6 427.4 L595.6 425.4 L596.6 423.4 L597.6 421.4 L598.6 419.4 L599.6 417.6 L600.6 415.9 L601.6 414.4 L602.6 413.1 L603.6 412.1 L604.6 411.2 L605.6 410.7 L606.6 410.3 L607.6 410.3 L608.6 410.6 L609.6 411.1 L610.6 411.9 L611.6 412.9 L612.6 414.2 L613.6 415.6 L614.6 417.3 L615.6 419.1 L616.6 421.0 L617.6 423.0 L618.6 425.0 L619.6 427.0 L620.6 429.0 L621.6 431.0 L622.6 432.8 L623.6 434.5 L624.6 436.0 L625.6 437.3 L626.6 438.4 L627.6 439.3 L628.6 439.9 L629.6 440.2 L630.6 440.3 L631.6 440.1 L632.6 439.6 L633.6 438.8 L634.6 437.8 L635.6 436.6 L636.6 435.1 L636.9 434.7" stroke="#d19392" stroke-width="3.35"/>
</g>
<g fill="none" stroke="#557bab" stroke-width="1.2"><path d="M176.5 312.5 L272 249.3 M272 249.3 L267.6 257.7 M272 249.3 L262.5 250.0"/><path d="M280.6 240.5 L383 240.5 M383 240.5 L374.7 245.1 M383 240.5 L374.7 235.9"/><path d="M392.5 232.5 L487.9 121.5 M487.9 121.5 L486.0 130.8 M487.9 121.5 L479.0 124.8"/><path d="M488.5 112.5 L592.3 112.5 M592.3 112.5 L584.0 117.1 M592.3 112.5 L584.0 107.9"/></g><path d="M366.4 512.4 H379.0 V572.6 H385.09999999999997 L372.7 585 L360.3 572.6 H366.4 Z" fill="none" stroke="#385d8a" stroke-width="2.7" stroke-linejoin="miter"/><path d="M598.3000000000001 512.4 H610.9 V572.6 H617.0 L604.6 585 L592.2 572.6 H598.3000000000001 Z" fill="none" stroke="#385d8a" stroke-width="2.7" stroke-linejoin="miter"/>
<text class="ax" x="83.4" y="51.8" text-anchor="end">100000</text>
<text class="ax" x="83.4" y="165.2" text-anchor="end">10000</text>
<text class="ax" x="83.4" y="278.6" text-anchor="end">1000</text>
<text class="ax" x="83.4" y="392.0" text-anchor="end">100</text>
<text class="ax" x="83.4" y="505.4" text-anchor="end">10</text>
<text class="ax" x="83.4" y="618.8" text-anchor="end">1</text>
<text class="ar" x="662" y="51.5">200</text>
<text class="ar" x="662" y="146.0">150</text>
<text class="ar" x="662" y="240.5">100</text>
<text class="ar" x="662" y="335.0">50</text>
<text class="ar" x="662" y="429.5">0</text>
<text class="ar" x="662" y="524.0">-50</text>
<text class="ar" x="662" y="618.5">-100</text>
<text class="ad" transform="translate(103.4 622.4) rotate(-90)" x="-50.51 -42.95 -38.64 -31.08 -26.77 -20.05 -13.33 -6.61">1/1/1928</text>
<text class="ad" transform="translate(123.4 622.4) rotate(-90)" x="-57.23 -50.51 -42.95 -38.64 -31.08 -26.77 -20.05 -13.33 -6.61">10/1/1931</text>
<text class="ad" transform="translate(143.4 622.4) rotate(-90)" x="-50.51 -42.95 -38.64 -31.08 -26.77 -20.05 -13.33 -6.61">7/1/1935</text>
<text class="ad" transform="translate(163.4 622.4) rotate(-90)" x="-50.51 -42.95 -38.64 -31.08 -26.77 -20.05 -13.33 -6.61">4/1/1939</text>
<text class="ad" transform="translate(183.4 622.4) rotate(-90)" x="-50.51 -42.95 -38.64 -31.08 -26.77 -20.05 -13.33 -6.61">1/1/1943</text>
<text class="ad" transform="translate(203.4 622.4) rotate(-90)" x="-57.23 -50.51 -42.95 -38.64 -31.08 -26.77 -20.05 -13.33 -6.61">10/1/1946</text>
<text class="ad" transform="translate(223.4 622.4) rotate(-90)" x="-50.51 -42.95 -38.64 -31.08 -26.77 -20.05 -13.33 -6.61">7/1/1950</text>
<text class="ad" transform="translate(243.4 622.4) rotate(-90)" x="-50.51 -42.95 -38.64 -31.08 -26.77 -20.05 -13.33 -6.61">4/1/1954</text>
<text class="ad" transform="translate(263.4 622.4) rotate(-90)" x="-50.51 -42.95 -38.64 -31.08 -26.77 -20.05 -13.33 -6.61">1/1/1958</text>
<text class="ad" transform="translate(283.4 622.4) rotate(-90)" x="-57.23 -50.51 -42.95 -38.64 -31.08 -26.77 -20.05 -13.33 -6.61">10/1/1961</text>
<text class="ad" transform="translate(303.4 622.4) rotate(-90)" x="-50.51 -42.95 -38.64 -31.08 -26.77 -20.05 -13.33 -6.61">7/1/1965</text>
<text class="ad" transform="translate(323.4 622.4) rotate(-90)" x="-50.51 -42.95 -38.64 -31.08 -26.77 -20.05 -13.33 -6.61">4/1/1969</text>
<text class="ad" transform="translate(343.4 622.4) rotate(-90)" x="-50.51 -42.95 -38.64 -31.08 -26.77 -20.05 -13.33 -6.61">1/1/1973</text>
<text class="ad" transform="translate(363.4 622.4) rotate(-90)" x="-57.23 -50.51 -42.95 -38.64 -31.08 -26.77 -20.05 -13.33 -6.61">10/1/1976</text>
<text class="ad" transform="translate(383.4 622.4) rotate(-90)" x="-50.51 -42.95 -38.64 -31.08 -26.77 -20.05 -13.33 -6.61">7/1/1980</text>
<text class="ad" transform="translate(403.4 622.4) rotate(-90)" x="-50.51 -42.95 -38.64 -31.08 -26.77 -20.05 -13.33 -6.61">4/1/1984</text>
<text class="ad" transform="translate(423.4 622.4) rotate(-90)" x="-50.51 -42.95 -38.64 -31.08 -26.77 -20.05 -13.33 -6.61">1/1/1988</text>
<text class="ad" transform="translate(443.4 622.4) rotate(-90)" x="-57.23 -50.51 -42.95 -38.64 -31.08 -26.77 -20.05 -13.33 -6.61">10/1/1991</text>
<text class="ad" transform="translate(463.4 622.4) rotate(-90)" x="-50.51 -42.95 -38.64 -31.08 -26.77 -20.05 -13.33 -6.61">7/1/1995</text>
<text class="ad" transform="translate(483.4 622.4) rotate(-90)" x="-50.51 -42.95 -38.64 -31.08 -26.77 -20.05 -13.33 -6.61">4/1/1999</text>
<text class="ad" transform="translate(503.4 622.4) rotate(-90)" x="-50.51 -42.95 -38.64 -31.08 -26.77 -20.05 -13.33 -6.61">1/1/2003</text>
<text class="ad" transform="translate(523.4 622.4) rotate(-90)" x="-57.23 -50.51 -42.95 -38.64 -31.08 -26.77 -20.05 -13.33 -6.61">10/1/2006</text>
<text class="ad" transform="translate(543.4 622.4) rotate(-90)" x="-50.51 -42.95 -38.64 -31.08 -26.77 -20.05 -13.33 -6.61">7/1/2010</text>
<text class="ad" transform="translate(563.4 622.4) rotate(-90)" x="-50.51 -42.95 -38.64 -31.08 -26.77 -20.05 -13.33 -6.61">4/1/2014</text>
<text class="ad" transform="translate(583.4 622.4) rotate(-90)" x="-50.51 -42.95 -38.64 -31.08 -26.77 -20.05 -13.33 -6.61">1/1/2018</text>
<text class="ad" transform="translate(603.4 622.4) rotate(-90)" x="-57.23 -50.51 -42.95 -38.64 -31.08 -26.77 -20.05 -13.33 -6.61">10/1/2021</text>
<text class="ad" transform="translate(623.4 622.4) rotate(-90)" x="-50.51 -42.95 -38.64 -31.08 -26.77 -20.05 -13.33 -6.61">7/1/2025</text>
<text class="ad" transform="translate(643.4 622.4) rotate(-90)" x="-50.51 -42.95 -38.64 -31.08 -26.77 -20.05 -13.33 -6.61">4/1/2029</text>
<text class="rg" x="83" y="34.2" textLength="84.5" lengthAdjust="spacingAndGlyphs">Region A</text>
<text class="rg" x="187" y="34.2" textLength="84.5" lengthAdjust="spacingAndGlyphs">Region B</text>
<text class="rg" x="291" y="34.2" textLength="84.5" lengthAdjust="spacingAndGlyphs">Region C</text>
<text class="rg" x="403" y="34.2" textLength="84.5" lengthAdjust="spacingAndGlyphs">Region D</text>
<text class="rg" x="515" y="34.2" textLength="84.5" lengthAdjust="spacingAndGlyphs">Region E</text>
<text class="gz" x="66.5" y="78" textLength="79" lengthAdjust="spacingAndGlyphs">Gold Zone</text>
<text class="dz" x="178.5" y="78" textLength="78" lengthAdjust="spacingAndGlyphs">Dow Zone</text>
<text class="gz" x="290.5" y="78" textLength="79" lengthAdjust="spacingAndGlyphs">Gold Zone</text>
<text class="dz" x="410.5" y="78" textLength="78" lengthAdjust="spacingAndGlyphs">Dow Zone</text>
<text class="gz" x="522.5" y="78" textLength="79" lengthAdjust="spacingAndGlyphs">Gold Zone</text>
<line x1="725.5" y1="130.5" x2="750.5" y2="130.5" stroke="#4572a7" stroke-width="3" stroke-linecap="round"/>
<text class="lg" x="753.8" y="134.8" textLength="32.5" lengthAdjust="spacingAndGlyphs">DOW</text>
<line x1="725.5" y1="169.3" x2="750.5" y2="169.3" stroke="#aa4643" stroke-width="3" stroke-linecap="round"/>
<text class="lg" x="753.8" y="173.60000000000002" textLength="83.5" lengthAdjust="spacingAndGlyphs">FIT tp 50-MA</text>
<line x1="725.5" y1="207.5" x2="750.5" y2="207.5" stroke="#89a54e" stroke-width="3" stroke-linecap="round"/>
<text class="lg" x="753.8" y="211.8" textLength="139" lengthAdjust="spacingAndGlyphs">FOURIER FIT TO DOW</text>
<line x1="725.5" y1="246.3" x2="750.5" y2="246.3" stroke="#71588f" stroke-width="3" stroke-linecap="round"/>
<text class="lg" x="753.8" y="250.60000000000002" textLength="155" lengthAdjust="spacingAndGlyphs">% 50-Mth MA Deviation</text>
<line x1="725.5" y1="284.5" x2="750.5" y2="284.5" stroke="#4198af" stroke-width="3" stroke-linecap="round"/>
<text class="lg" x="753.8" y="288.8" textLength="159.5" lengthAdjust="spacingAndGlyphs">FOURIER FIT to % 50-MA</text>
<text class="lg" x="753.8" y="308.8" textLength="24.5" lengthAdjust="spacingAndGlyphs">Dev</text>
<text class="sig" x="707" y="546.3" textLength="72" lengthAdjust="spacingAndGlyphs">F.T. Dao</text>
<text class="sig" x="707" y="572.5" textLength="184" lengthAdjust="spacingAndGlyphs">Updated 5-20-2016</text>
</svg></body></html>
